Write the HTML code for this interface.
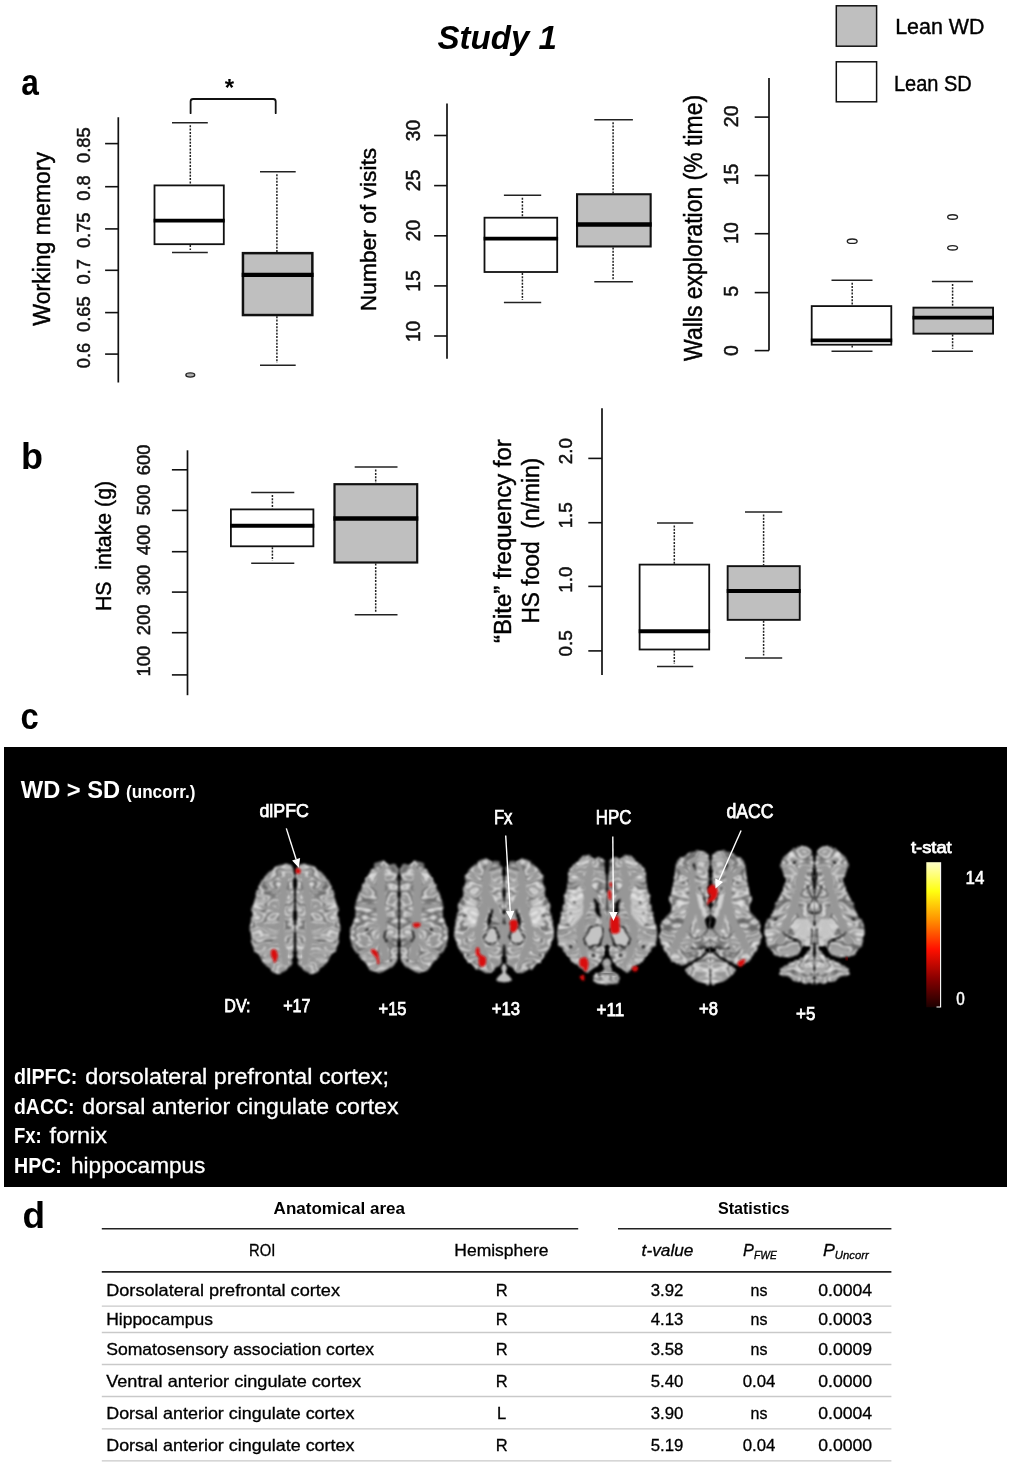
<!DOCTYPE html>
<html lang="en"><head><meta charset="utf-8"><title>Study 1</title>
<style>
html,body{margin:0;padding:0;background:#fff;}
body{width:1009px;height:1466px;overflow:hidden;font-family:"Liberation Sans",sans-serif;}
svg{display:block;}
text{white-space:pre;}
</style></head><body>
<svg width="1009" height="1466" viewBox="0 0 1009 1466">
<rect width="1009" height="1466" fill="#fff"/>
<g id="plots" font-family="Liberation Sans, sans-serif">
<text x="437.5" y="49" font-size="33" font-weight="bold" font-style="italic" textLength="119.5" lengthAdjust="spacingAndGlyphs" fill="#000">Study 1</text>
<rect x="836.3" y="5.8" width="40.3" height="40.4" fill="#bfbfbf" stroke="#111" stroke-width="1.5"/>
<rect x="836.3" y="61.8" width="40.3" height="40.0" fill="#fff" stroke="#111" stroke-width="1.5"/>
<text x="895.2" y="34.3" font-size="22" textLength="89.4" lengthAdjust="spacingAndGlyphs" fill="#000" stroke="#000" stroke-width="0.4">Lean WD</text>
<text x="893.9" y="91.2" font-size="22" textLength="77.9" lengthAdjust="spacingAndGlyphs" fill="#000" stroke="#000" stroke-width="0.4">Lean SD</text>
<text x="21.3" y="94.5" font-size="37" font-weight="bold" textLength="17.6" lengthAdjust="spacingAndGlyphs" fill="#000">a</text>
<text x="21" y="469.3" font-size="37.5" font-weight="bold" textLength="22" lengthAdjust="spacingAndGlyphs" fill="#000">b</text>
<text x="20.6" y="729.3" font-size="37.5" font-weight="bold" textLength="18.2" lengthAdjust="spacingAndGlyphs" fill="#000">c</text>
<text x="22.5" y="1228.3" font-size="37.5" font-weight="bold" textLength="22.6" lengthAdjust="spacingAndGlyphs" fill="#000">d</text>
<line x1="118.3" y1="117.2" x2="118.3" y2="382.5" stroke="#111" stroke-width="1.7"/>
<line x1="105.1" y1="143.6" x2="118.3" y2="143.6" stroke="#111" stroke-width="1.6"/>
<line x1="105.1" y1="186.7" x2="118.3" y2="186.7" stroke="#111" stroke-width="1.6"/>
<line x1="105.1" y1="228.9" x2="118.3" y2="228.9" stroke="#111" stroke-width="1.6"/>
<line x1="105.1" y1="270.3" x2="118.3" y2="270.3" stroke="#111" stroke-width="1.6"/>
<line x1="105.1" y1="312.6" x2="118.3" y2="312.6" stroke="#111" stroke-width="1.6"/>
<line x1="105.1" y1="354.1" x2="118.3" y2="354.1" stroke="#111" stroke-width="1.6"/>
<text transform="translate(90.2,145.1) rotate(-90)" font-size="18.3" text-anchor="middle" fill="#111" stroke="#111" stroke-width="0.5">0.85</text>
<text transform="translate(90.2,188) rotate(-90)" font-size="18.3" text-anchor="middle" fill="#111" stroke="#111" stroke-width="0.5">0.8</text>
<text transform="translate(90.2,230.3) rotate(-90)" font-size="18.3" text-anchor="middle" fill="#111" stroke="#111" stroke-width="0.5">0.75</text>
<text transform="translate(90.2,271.9) rotate(-90)" font-size="18.3" text-anchor="middle" fill="#111" stroke="#111" stroke-width="0.5">0.7</text>
<text transform="translate(90.2,314.2) rotate(-90)" font-size="18.3" text-anchor="middle" fill="#111" stroke="#111" stroke-width="0.5">0.65</text>
<text transform="translate(90.2,355.5) rotate(-90)" font-size="18.3" text-anchor="middle" fill="#111" stroke="#111" stroke-width="0.5">0.6</text>
<text transform="translate(49.7,238.8) rotate(-90)" font-size="23" text-anchor="middle" textLength="173.8" lengthAdjust="spacingAndGlyphs" fill="#000" stroke="#000" stroke-width="0.45">Working memory</text>
<line x1="190.3" y1="125.3" x2="190.3" y2="184.5" stroke="#222" stroke-width="1.5" stroke-dasharray="2 1.3"/>
<line x1="190.3" y1="245.1" x2="190.3" y2="250.0" stroke="#222" stroke-width="1.5" stroke-dasharray="2 1.3"/>
<line x1="172" y1="122.8" x2="207.8" y2="122.8" stroke="#222" stroke-width="1.5"/>
<line x1="172" y1="252.5" x2="207.8" y2="252.5" stroke="#222" stroke-width="1.5"/>
<rect x="154.5" y="185.4" width="69.3" height="58.8" fill="#fff" stroke="#111" stroke-width="1.8"/>
<line x1="153.6" y1="220.6" x2="224.7" y2="220.6" stroke="#000" stroke-width="3.9"/>
<ellipse cx="190.3" cy="375" rx="4.4" ry="2.1" fill="#b0b0b0" stroke="#222" stroke-width="1.4"/>
<line x1="276.9" y1="174.2" x2="276.9" y2="251.9" stroke="#222" stroke-width="1.5" stroke-dasharray="2 1.3"/>
<line x1="276.9" y1="316.3" x2="276.9" y2="362.8" stroke="#222" stroke-width="1.5" stroke-dasharray="2 1.3"/>
<line x1="260" y1="171.7" x2="295.7" y2="171.7" stroke="#222" stroke-width="1.5"/>
<line x1="260" y1="365.3" x2="295.7" y2="365.3" stroke="#222" stroke-width="1.5"/>
<rect x="242.95" y="253.15" width="69.4" height="61.9" fill="#bfbfbf" stroke="#111" stroke-width="2.5"/>
<line x1="241.7" y1="274.9" x2="313.6" y2="274.9" stroke="#000" stroke-width="4.4"/>
<path d="M190.6 113.2 V101.5 Q190.6 99 193.1 99 H273.2 Q275.7 99 275.7 101.5 V113.2" fill="none" stroke="#111" stroke-width="1.8" stroke-linecap="round"/>
<text x="229.5" y="96.4" font-size="24" text-anchor="middle" font-weight="bold" fill="#000">*</text>
<line x1="447" y1="103.5" x2="447" y2="358.7" stroke="#111" stroke-width="1.7"/>
<line x1="434.1" y1="135.5" x2="447" y2="135.5" stroke="#111" stroke-width="1.6"/>
<line x1="434.1" y1="185.6" x2="447" y2="185.6" stroke="#111" stroke-width="1.6"/>
<line x1="434.1" y1="235.8" x2="447" y2="235.8" stroke="#111" stroke-width="1.6"/>
<line x1="434.1" y1="285.9" x2="447" y2="285.9" stroke="#111" stroke-width="1.6"/>
<line x1="434.1" y1="336" x2="447" y2="336" stroke="#111" stroke-width="1.6"/>
<text transform="translate(420,130.5) rotate(-90)" font-size="19.3" text-anchor="middle" fill="#111" stroke="#111" stroke-width="0.5">30</text>
<text transform="translate(420,180.5) rotate(-90)" font-size="19.3" text-anchor="middle" fill="#111" stroke="#111" stroke-width="0.5">25</text>
<text transform="translate(420,230.5) rotate(-90)" font-size="19.3" text-anchor="middle" fill="#111" stroke="#111" stroke-width="0.5">20</text>
<text transform="translate(420,281) rotate(-90)" font-size="19.3" text-anchor="middle" fill="#111" stroke="#111" stroke-width="0.5">15</text>
<text transform="translate(420,331.4) rotate(-90)" font-size="19.3" text-anchor="middle" fill="#111" stroke="#111" stroke-width="0.5">10</text>
<text transform="translate(375.7,229.5) rotate(-90)" font-size="22.2" text-anchor="middle" textLength="163.4" lengthAdjust="spacingAndGlyphs" fill="#000" stroke="#000" stroke-width="0.45">Number of visits</text>
<line x1="522.4" y1="197.8" x2="522.4" y2="216.8" stroke="#222" stroke-width="1.5" stroke-dasharray="2 1.3"/>
<line x1="522.4" y1="272.9" x2="522.4" y2="300.1" stroke="#222" stroke-width="1.5" stroke-dasharray="2 1.3"/>
<line x1="503.9" y1="195.3" x2="541.2" y2="195.3" stroke="#222" stroke-width="1.5"/>
<line x1="503.9" y1="302.6" x2="541.2" y2="302.6" stroke="#222" stroke-width="1.5"/>
<rect x="484.5" y="217.7" width="72.7" height="54.3" fill="#fff" stroke="#111" stroke-width="1.8"/>
<line x1="483.6" y1="238.6" x2="558.1" y2="238.6" stroke="#000" stroke-width="3.9"/>
<line x1="613.1" y1="122.3" x2="613.1" y2="193.2" stroke="#222" stroke-width="1.5" stroke-dasharray="2 1.3"/>
<line x1="613.1" y1="247.5" x2="613.1" y2="279.2" stroke="#222" stroke-width="1.5" stroke-dasharray="2 1.3"/>
<line x1="594.3" y1="119.8" x2="632.9" y2="119.8" stroke="#222" stroke-width="1.5"/>
<line x1="594.3" y1="281.7" x2="632.9" y2="281.7" stroke="#222" stroke-width="1.5"/>
<rect x="577.05" y="194.25" width="73.6" height="52.2" fill="#bfbfbf" stroke="#111" stroke-width="2.1"/>
<line x1="576" y1="224.5" x2="651.7" y2="224.5" stroke="#000" stroke-width="4.3"/>
<line x1="769" y1="78" x2="769" y2="350.6" stroke="#111" stroke-width="1.7"/>
<line x1="754.7" y1="117.1" x2="769" y2="117.1" stroke="#111" stroke-width="1.6"/>
<line x1="754.7" y1="175.5" x2="769" y2="175.5" stroke="#111" stroke-width="1.6"/>
<line x1="754.7" y1="233.7" x2="769" y2="233.7" stroke="#111" stroke-width="1.6"/>
<line x1="754.7" y1="292.6" x2="769" y2="292.6" stroke="#111" stroke-width="1.6"/>
<line x1="754.7" y1="350.6" x2="769" y2="350.6" stroke="#111" stroke-width="1.6"/>
<text transform="translate(737.5,116.3) rotate(-90)" font-size="19.6" text-anchor="middle" fill="#111" stroke="#111" stroke-width="0.5">20</text>
<text transform="translate(737.5,174.4) rotate(-90)" font-size="19.6" text-anchor="middle" fill="#111" stroke="#111" stroke-width="0.5">15</text>
<text transform="translate(737.5,233.1) rotate(-90)" font-size="19.6" text-anchor="middle" fill="#111" stroke="#111" stroke-width="0.5">10</text>
<text transform="translate(737.5,291.2) rotate(-90)" font-size="19.6" text-anchor="middle" fill="#111" stroke="#111" stroke-width="0.5">5</text>
<text transform="translate(737.5,350.5) rotate(-90)" font-size="19.6" text-anchor="middle" fill="#111" stroke="#111" stroke-width="0.5">0</text>
<text transform="translate(702.3,227.9) rotate(-90)" font-size="25" text-anchor="middle" textLength="266" lengthAdjust="spacingAndGlyphs" fill="#000" stroke="#000" stroke-width="0.45">Walls exploration (% time)</text>
<line x1="852.2" y1="282.7" x2="852.2" y2="305.2" stroke="#222" stroke-width="1.5" stroke-dasharray="2 1.3"/>
<line x1="852.2" y1="345.6" x2="852.2" y2="348.7" stroke="#222" stroke-width="1.5" stroke-dasharray="2 1.3"/>
<line x1="831.5" y1="280.2" x2="872.5" y2="280.2" stroke="#222" stroke-width="1.5"/>
<line x1="831.5" y1="351.2" x2="872.5" y2="351.2" stroke="#222" stroke-width="1.5"/>
<rect x="811.7" y="306.1" width="79.6" height="38.6" fill="#fff" stroke="#111" stroke-width="1.8"/>
<line x1="810.8" y1="340.4" x2="892.2" y2="340.4" stroke="#000" stroke-width="3.9"/>
<ellipse cx="852.2" cy="241.2" rx="4.9" ry="2.2" fill="#fff" stroke="#222" stroke-width="1.4"/>
<line x1="952.6" y1="283.9" x2="952.6" y2="306.7" stroke="#222" stroke-width="1.5" stroke-dasharray="2 1.3"/>
<line x1="952.6" y1="334.6" x2="952.6" y2="348.7" stroke="#222" stroke-width="1.5" stroke-dasharray="2 1.3"/>
<line x1="931.9" y1="281.4" x2="972.9" y2="281.4" stroke="#222" stroke-width="1.5"/>
<line x1="931.9" y1="351.2" x2="972.9" y2="351.2" stroke="#222" stroke-width="1.5"/>
<rect x="913.45" y="307.65" width="79.6" height="26.0" fill="#bfbfbf" stroke="#111" stroke-width="1.9"/>
<line x1="912.5" y1="317.6" x2="994" y2="317.6" stroke="#000" stroke-width="3.9"/>
<ellipse cx="952.6" cy="217" rx="4.9" ry="2.2" fill="#fff" stroke="#222" stroke-width="1.4"/>
<ellipse cx="952.6" cy="247.8" rx="4.9" ry="2.2" fill="#fff" stroke="#222" stroke-width="1.4"/>
<line x1="187.5" y1="450.3" x2="187.5" y2="695.2" stroke="#111" stroke-width="1.7"/>
<line x1="171.9" y1="469.8" x2="187.5" y2="469.8" stroke="#111" stroke-width="1.6"/>
<line x1="171.9" y1="510.4" x2="187.5" y2="510.4" stroke="#111" stroke-width="1.6"/>
<line x1="171.9" y1="551.7" x2="187.5" y2="551.7" stroke="#111" stroke-width="1.6"/>
<line x1="171.9" y1="592.1" x2="187.5" y2="592.1" stroke="#111" stroke-width="1.6"/>
<line x1="171.9" y1="632.7" x2="187.5" y2="632.7" stroke="#111" stroke-width="1.6"/>
<line x1="171.9" y1="674.9" x2="187.5" y2="674.9" stroke="#111" stroke-width="1.6"/>
<text transform="translate(149.9,459.8) rotate(-90)" font-size="18.4" text-anchor="middle" fill="#111" stroke="#111" stroke-width="0.5">600</text>
<text transform="translate(149.9,499.8) rotate(-90)" font-size="18.4" text-anchor="middle" fill="#111" stroke="#111" stroke-width="0.5">500</text>
<text transform="translate(149.9,540) rotate(-90)" font-size="18.4" text-anchor="middle" fill="#111" stroke="#111" stroke-width="0.5">400</text>
<text transform="translate(149.9,580) rotate(-90)" font-size="18.4" text-anchor="middle" fill="#111" stroke="#111" stroke-width="0.5">300</text>
<text transform="translate(149.9,619.9) rotate(-90)" font-size="18.4" text-anchor="middle" fill="#111" stroke="#111" stroke-width="0.5">200</text>
<text transform="translate(149.9,661.1) rotate(-90)" font-size="18.4" text-anchor="middle" fill="#111" stroke="#111" stroke-width="0.5">100</text>
<text transform="translate(111.1,546) rotate(-90)" font-size="22.5" text-anchor="middle" textLength="130.2" lengthAdjust="spacingAndGlyphs" fill="#000" stroke="#000" stroke-width="0.45">HS  intake (g)</text>
<line x1="272.4" y1="495.0" x2="272.4" y2="508.5" stroke="#222" stroke-width="1.5" stroke-dasharray="2 1.3"/>
<line x1="272.4" y1="547.2" x2="272.4" y2="560.7" stroke="#222" stroke-width="1.5" stroke-dasharray="2 1.3"/>
<line x1="251.2" y1="492.5" x2="294.3" y2="492.5" stroke="#222" stroke-width="1.5"/>
<line x1="251.2" y1="563.2" x2="294.3" y2="563.2" stroke="#222" stroke-width="1.5"/>
<rect x="230.9" y="509.4" width="82.5" height="36.9" fill="#fff" stroke="#111" stroke-width="1.8"/>
<line x1="230" y1="525.8" x2="314.3" y2="525.8" stroke="#000" stroke-width="3.9"/>
<line x1="375.7" y1="469.6" x2="375.7" y2="483.1" stroke="#222" stroke-width="1.5" stroke-dasharray="2 1.3"/>
<line x1="375.7" y1="563.6" x2="375.7" y2="612.3" stroke="#222" stroke-width="1.5" stroke-dasharray="2 1.3"/>
<line x1="354.7" y1="467.1" x2="397.5" y2="467.1" stroke="#222" stroke-width="1.5"/>
<line x1="354.7" y1="614.8" x2="397.5" y2="614.8" stroke="#222" stroke-width="1.5"/>
<rect x="334.5" y="484.2" width="82.7" height="78.3" fill="#bfbfbf" stroke="#111" stroke-width="2.2"/>
<line x1="333.4" y1="518.5" x2="418.3" y2="518.5" stroke="#000" stroke-width="4.5"/>
<line x1="602" y1="408.3" x2="602" y2="675" stroke="#111" stroke-width="1.7"/>
<line x1="588.3" y1="458.4" x2="602" y2="458.4" stroke="#111" stroke-width="1.6"/>
<line x1="588.3" y1="522.7" x2="602" y2="522.7" stroke="#111" stroke-width="1.6"/>
<line x1="588.3" y1="586.4" x2="602" y2="586.4" stroke="#111" stroke-width="1.6"/>
<line x1="588.3" y1="650.9" x2="602" y2="650.9" stroke="#111" stroke-width="1.6"/>
<text transform="translate(572.3,451.2) rotate(-90)" font-size="18.8" text-anchor="middle" fill="#111" stroke="#111" stroke-width="0.5">2.0</text>
<text transform="translate(572.3,515.3) rotate(-90)" font-size="18.8" text-anchor="middle" fill="#111" stroke="#111" stroke-width="0.5">1.5</text>
<text transform="translate(572.3,579.6) rotate(-90)" font-size="18.8" text-anchor="middle" fill="#111" stroke="#111" stroke-width="0.5">1.0</text>
<text transform="translate(572.3,643.4) rotate(-90)" font-size="18.8" text-anchor="middle" fill="#111" stroke="#111" stroke-width="0.5">0.5</text>
<text transform="translate(510.7,541.1) rotate(-90)" font-size="23" text-anchor="middle" textLength="203.8" lengthAdjust="spacingAndGlyphs" fill="#000" stroke="#000" stroke-width="0.45">“Bite” frequency for</text>
<text transform="translate(538.8,540.7) rotate(-90)" font-size="23" text-anchor="middle" textLength="165.8" lengthAdjust="spacingAndGlyphs" fill="#000" stroke="#000" stroke-width="0.45">HS food  (n/min)</text>
<line x1="674.3" y1="525.4" x2="674.3" y2="563.7" stroke="#222" stroke-width="1.5" stroke-dasharray="2 1.3"/>
<line x1="674.3" y1="650.4" x2="674.3" y2="663.9" stroke="#222" stroke-width="1.5" stroke-dasharray="2 1.3"/>
<line x1="657" y1="522.9" x2="693.2" y2="522.9" stroke="#222" stroke-width="1.5"/>
<line x1="657" y1="666.4" x2="693.2" y2="666.4" stroke="#222" stroke-width="1.5"/>
<rect x="639.6" y="564.6" width="69.6" height="84.9" fill="#fff" stroke="#111" stroke-width="1.8"/>
<line x1="638.7" y1="631.2" x2="710.1" y2="631.2" stroke="#000" stroke-width="3.9"/>
<line x1="763.6" y1="514.4" x2="763.6" y2="565.2" stroke="#222" stroke-width="1.5" stroke-dasharray="2 1.3"/>
<line x1="763.6" y1="620.8" x2="763.6" y2="655.6" stroke="#222" stroke-width="1.5" stroke-dasharray="2 1.3"/>
<line x1="745" y1="511.9" x2="782.2" y2="511.9" stroke="#222" stroke-width="1.5"/>
<line x1="745" y1="658.1" x2="782.2" y2="658.1" stroke="#222" stroke-width="1.5"/>
<rect x="727.65" y="566.15" width="72.1" height="53.7" fill="#bfbfbf" stroke="#111" stroke-width="1.9"/>
<line x1="726.7" y1="591" x2="800.7" y2="591" stroke="#000" stroke-width="4.0"/>
</g>
<g id="panelc" font-family="Liberation Sans, sans-serif">
<rect x="4" y="747" width="1003" height="440" fill="#000"/>
<defs><filter id="wob1" x="-10%" y="-10%" width="120%" height="120%" color-interpolation-filters="sRGB"><feTurbulence type="fractalNoise" baseFrequency="0.12" numOctaves="2" seed="8" result="n"/><feDisplacementMap in="SourceGraphic" in2="n" scale="4.5" xChannelSelector="R" yChannelSelector="G" result="d"/><feTurbulence type="fractalNoise" baseFrequency="0.045 0.085" numOctaves="2" seed="12" result="m"/><feColorMatrix in="m" type="matrix" values="1 0 0 0 0  1 0 0 0 0  1 0 0 0 0  0 0 0 0 1" result="mg"/><feComponentTransfer in="mg" result="bands"><feFuncR type="table" tableValues="0.66 0.66 0.66 0.66 0.66 0.70 1.00 0.72 0.62 0.72 1.00 0.70 0.42 0.70 1.00 0.72 0.62 0.72 1.00 0.70 0.66 0.66 0.66 0.66 0.66"/><feFuncG type="table" tableValues="0.66 0.66 0.66 0.66 0.66 0.70 1.00 0.72 0.62 0.72 1.00 0.70 0.42 0.70 1.00 0.72 0.62 0.72 1.00 0.70 0.66 0.66 0.66 0.66 0.66"/><feFuncB type="table" tableValues="0.66 0.66 0.66 0.66 0.66 0.70 1.00 0.72 0.62 0.72 1.00 0.70 0.42 0.70 1.00 0.72 0.62 0.72 1.00 0.70 0.66 0.66 0.66 0.66 0.66"/></feComponentTransfer><feBlend in="bands" in2="d" mode="multiply" result="mix"/><feComposite in="mix" in2="d" operator="in" result="mix2"/><feGaussianBlur in="mix2" stdDeviation="0.8"/></filter><filter id="wob1p" x="-10%" y="-10%" width="120%" height="120%" color-interpolation-filters="sRGB"><feTurbulence type="fractalNoise" baseFrequency="0.12" numOctaves="2" seed="8" result="n"/><feDisplacementMap in="SourceGraphic" in2="n" scale="4.5" xChannelSelector="R" yChannelSelector="G" result="d"/><feGaussianBlur in="d" stdDeviation="0.8"/></filter><filter id="wob2" x="-10%" y="-10%" width="120%" height="120%" color-interpolation-filters="sRGB"><feTurbulence type="fractalNoise" baseFrequency="0.12" numOctaves="2" seed="13" result="n"/><feDisplacementMap in="SourceGraphic" in2="n" scale="4.5" xChannelSelector="R" yChannelSelector="G" result="d"/><feTurbulence type="fractalNoise" baseFrequency="0.045 0.085" numOctaves="2" seed="17" result="m"/><feColorMatrix in="m" type="matrix" values="1 0 0 0 0  1 0 0 0 0  1 0 0 0 0  0 0 0 0 1" result="mg"/><feComponentTransfer in="mg" result="bands"><feFuncR type="table" tableValues="0.66 0.66 0.66 0.66 0.66 0.70 1.00 0.72 0.62 0.72 1.00 0.70 0.42 0.70 1.00 0.72 0.62 0.72 1.00 0.70 0.66 0.66 0.66 0.66 0.66"/><feFuncG type="table" tableValues="0.66 0.66 0.66 0.66 0.66 0.70 1.00 0.72 0.62 0.72 1.00 0.70 0.42 0.70 1.00 0.72 0.62 0.72 1.00 0.70 0.66 0.66 0.66 0.66 0.66"/><feFuncB type="table" tableValues="0.66 0.66 0.66 0.66 0.66 0.70 1.00 0.72 0.62 0.72 1.00 0.70 0.42 0.70 1.00 0.72 0.62 0.72 1.00 0.70 0.66 0.66 0.66 0.66 0.66"/></feComponentTransfer><feBlend in="bands" in2="d" mode="multiply" result="mix"/><feComposite in="mix" in2="d" operator="in" result="mix2"/><feGaussianBlur in="mix2" stdDeviation="0.8"/></filter><filter id="wob2p" x="-10%" y="-10%" width="120%" height="120%" color-interpolation-filters="sRGB"><feTurbulence type="fractalNoise" baseFrequency="0.12" numOctaves="2" seed="13" result="n"/><feDisplacementMap in="SourceGraphic" in2="n" scale="4.5" xChannelSelector="R" yChannelSelector="G" result="d"/><feGaussianBlur in="d" stdDeviation="0.8"/></filter><filter id="wob3" x="-10%" y="-10%" width="120%" height="120%" color-interpolation-filters="sRGB"><feTurbulence type="fractalNoise" baseFrequency="0.12" numOctaves="2" seed="18" result="n"/><feDisplacementMap in="SourceGraphic" in2="n" scale="4.5" xChannelSelector="R" yChannelSelector="G" result="d"/><feTurbulence type="fractalNoise" baseFrequency="0.045 0.085" numOctaves="2" seed="22" result="m"/><feColorMatrix in="m" type="matrix" values="1 0 0 0 0  1 0 0 0 0  1 0 0 0 0  0 0 0 0 1" result="mg"/><feComponentTransfer in="mg" result="bands"><feFuncR type="table" tableValues="0.66 0.66 0.66 0.66 0.66 0.70 1.00 0.72 0.62 0.72 1.00 0.70 0.42 0.70 1.00 0.72 0.62 0.72 1.00 0.70 0.66 0.66 0.66 0.66 0.66"/><feFuncG type="table" tableValues="0.66 0.66 0.66 0.66 0.66 0.70 1.00 0.72 0.62 0.72 1.00 0.70 0.42 0.70 1.00 0.72 0.62 0.72 1.00 0.70 0.66 0.66 0.66 0.66 0.66"/><feFuncB type="table" tableValues="0.66 0.66 0.66 0.66 0.66 0.70 1.00 0.72 0.62 0.72 1.00 0.70 0.42 0.70 1.00 0.72 0.62 0.72 1.00 0.70 0.66 0.66 0.66 0.66 0.66"/></feComponentTransfer><feBlend in="bands" in2="d" mode="multiply" result="mix"/><feComposite in="mix" in2="d" operator="in" result="mix2"/><feGaussianBlur in="mix2" stdDeviation="0.8"/></filter><filter id="wob3p" x="-10%" y="-10%" width="120%" height="120%" color-interpolation-filters="sRGB"><feTurbulence type="fractalNoise" baseFrequency="0.12" numOctaves="2" seed="18" result="n"/><feDisplacementMap in="SourceGraphic" in2="n" scale="4.5" xChannelSelector="R" yChannelSelector="G" result="d"/><feGaussianBlur in="d" stdDeviation="0.8"/></filter><filter id="wob4" x="-10%" y="-10%" width="120%" height="120%" color-interpolation-filters="sRGB"><feTurbulence type="fractalNoise" baseFrequency="0.12" numOctaves="2" seed="23" result="n"/><feDisplacementMap in="SourceGraphic" in2="n" scale="4.5" xChannelSelector="R" yChannelSelector="G" result="d"/><feTurbulence type="fractalNoise" baseFrequency="0.045 0.085" numOctaves="2" seed="27" result="m"/><feColorMatrix in="m" type="matrix" values="1 0 0 0 0  1 0 0 0 0  1 0 0 0 0  0 0 0 0 1" result="mg"/><feComponentTransfer in="mg" result="bands"><feFuncR type="table" tableValues="0.66 0.66 0.66 0.66 0.66 0.70 1.00 0.72 0.62 0.72 1.00 0.70 0.42 0.70 1.00 0.72 0.62 0.72 1.00 0.70 0.66 0.66 0.66 0.66 0.66"/><feFuncG type="table" tableValues="0.66 0.66 0.66 0.66 0.66 0.70 1.00 0.72 0.62 0.72 1.00 0.70 0.42 0.70 1.00 0.72 0.62 0.72 1.00 0.70 0.66 0.66 0.66 0.66 0.66"/><feFuncB type="table" tableValues="0.66 0.66 0.66 0.66 0.66 0.70 1.00 0.72 0.62 0.72 1.00 0.70 0.42 0.70 1.00 0.72 0.62 0.72 1.00 0.70 0.66 0.66 0.66 0.66 0.66"/></feComponentTransfer><feBlend in="bands" in2="d" mode="multiply" result="mix"/><feComposite in="mix" in2="d" operator="in" result="mix2"/><feGaussianBlur in="mix2" stdDeviation="0.8"/></filter><filter id="wob4p" x="-10%" y="-10%" width="120%" height="120%" color-interpolation-filters="sRGB"><feTurbulence type="fractalNoise" baseFrequency="0.12" numOctaves="2" seed="23" result="n"/><feDisplacementMap in="SourceGraphic" in2="n" scale="4.5" xChannelSelector="R" yChannelSelector="G" result="d"/><feGaussianBlur in="d" stdDeviation="0.8"/></filter><filter id="wob5" x="-10%" y="-10%" width="120%" height="120%" color-interpolation-filters="sRGB"><feTurbulence type="fractalNoise" baseFrequency="0.12" numOctaves="2" seed="28" result="n"/><feDisplacementMap in="SourceGraphic" in2="n" scale="4.5" xChannelSelector="R" yChannelSelector="G" result="d"/><feTurbulence type="fractalNoise" baseFrequency="0.045 0.085" numOctaves="2" seed="32" result="m"/><feColorMatrix in="m" type="matrix" values="1 0 0 0 0  1 0 0 0 0  1 0 0 0 0  0 0 0 0 1" result="mg"/><feComponentTransfer in="mg" result="bands"><feFuncR type="table" tableValues="0.66 0.66 0.66 0.66 0.66 0.70 1.00 0.72 0.62 0.72 1.00 0.70 0.42 0.70 1.00 0.72 0.62 0.72 1.00 0.70 0.66 0.66 0.66 0.66 0.66"/><feFuncG type="table" tableValues="0.66 0.66 0.66 0.66 0.66 0.70 1.00 0.72 0.62 0.72 1.00 0.70 0.42 0.70 1.00 0.72 0.62 0.72 1.00 0.70 0.66 0.66 0.66 0.66 0.66"/><feFuncB type="table" tableValues="0.66 0.66 0.66 0.66 0.66 0.70 1.00 0.72 0.62 0.72 1.00 0.70 0.42 0.70 1.00 0.72 0.62 0.72 1.00 0.70 0.66 0.66 0.66 0.66 0.66"/></feComponentTransfer><feBlend in="bands" in2="d" mode="multiply" result="mix"/><feComposite in="mix" in2="d" operator="in" result="mix2"/><feGaussianBlur in="mix2" stdDeviation="0.8"/></filter><filter id="wob5p" x="-10%" y="-10%" width="120%" height="120%" color-interpolation-filters="sRGB"><feTurbulence type="fractalNoise" baseFrequency="0.12" numOctaves="2" seed="28" result="n"/><feDisplacementMap in="SourceGraphic" in2="n" scale="4.5" xChannelSelector="R" yChannelSelector="G" result="d"/><feGaussianBlur in="d" stdDeviation="0.8"/></filter><filter id="wob6" x="-10%" y="-10%" width="120%" height="120%" color-interpolation-filters="sRGB"><feTurbulence type="fractalNoise" baseFrequency="0.12" numOctaves="2" seed="33" result="n"/><feDisplacementMap in="SourceGraphic" in2="n" scale="4.5" xChannelSelector="R" yChannelSelector="G" result="d"/><feTurbulence type="fractalNoise" baseFrequency="0.045 0.085" numOctaves="2" seed="37" result="m"/><feColorMatrix in="m" type="matrix" values="1 0 0 0 0  1 0 0 0 0  1 0 0 0 0  0 0 0 0 1" result="mg"/><feComponentTransfer in="mg" result="bands"><feFuncR type="table" tableValues="0.66 0.66 0.66 0.66 0.66 0.70 1.00 0.72 0.62 0.72 1.00 0.70 0.42 0.70 1.00 0.72 0.62 0.72 1.00 0.70 0.66 0.66 0.66 0.66 0.66"/><feFuncG type="table" tableValues="0.66 0.66 0.66 0.66 0.66 0.70 1.00 0.72 0.62 0.72 1.00 0.70 0.42 0.70 1.00 0.72 0.62 0.72 1.00 0.70 0.66 0.66 0.66 0.66 0.66"/><feFuncB type="table" tableValues="0.66 0.66 0.66 0.66 0.66 0.70 1.00 0.72 0.62 0.72 1.00 0.70 0.42 0.70 1.00 0.72 0.62 0.72 1.00 0.70 0.66 0.66 0.66 0.66 0.66"/></feComponentTransfer><feBlend in="bands" in2="d" mode="multiply" result="mix"/><feComposite in="mix" in2="d" operator="in" result="mix2"/><feGaussianBlur in="mix2" stdDeviation="0.8"/></filter><filter id="wob6p" x="-10%" y="-10%" width="120%" height="120%" color-interpolation-filters="sRGB"><feTurbulence type="fractalNoise" baseFrequency="0.12" numOctaves="2" seed="33" result="n"/><feDisplacementMap in="SourceGraphic" in2="n" scale="4.5" xChannelSelector="R" yChannelSelector="G" result="d"/><feGaussianBlur in="d" stdDeviation="0.8"/></filter><filter id="soft"><feGaussianBlur stdDeviation="0.8"/></filter></defs>
<g filter="url(#wob1)"><path d="M292.6 867.8C291.4 863.7 288.4 865.4 286.0 865.1C283.6 864.7 280.6 864.9 278.1 865.9C275.5 866.8 273.3 868.5 270.9 870.6C268.5 872.7 265.9 875.6 263.8 878.5C261.7 881.5 259.7 884.6 258.2 888.1C256.8 891.5 256.0 895.2 255.1 899.2C254.1 903.1 253.0 907.6 252.4 911.8C251.7 916.1 251.2 920.3 251.1 924.5C251.0 928.8 251.3 933.3 251.9 937.2C252.5 941.2 253.3 945.0 254.6 948.3C255.9 951.6 257.9 954.3 259.8 957.0C261.8 959.8 264.1 962.6 266.2 965.0C268.3 967.3 270.1 970.1 272.5 971.3C274.9 972.6 277.9 972.9 280.4 972.4C282.9 972.0 285.6 970.5 287.6 968.6C289.6 966.7 291.4 966.0 292.3 961.0C293.3 956.0 293.2 946.7 293.4 938.8C293.7 930.9 293.6 921.6 293.6 913.4C293.6 905.2 293.8 897.3 293.6 889.6C293.4 882.0 293.9 871.9 292.6 867.8Z" fill="#e6e6e6" stroke="#f4f4f4" stroke-width="0.8" stroke-linejoin="round" stroke-linecap="round"/></g>
<g filter="url(#wob1p)"><path d="M285.2 880.1C284.7 883.8 282.6 894.7 282.0 902.3C281.4 910.0 281.5 919.0 281.5 926.1C281.5 933.3 281.4 939.3 282.0 945.1C282.6 951.0 284.7 958.4 285.2 961.0" fill="none" stroke="#979797" stroke-width="6.5" stroke-linejoin="round" stroke-linecap="round"/>
<path d="M282.8 897.6C281.4 896.4 276.7 892.7 274.1 890.4C271.5 888.2 268.1 885.2 267.0 884.1" fill="none" stroke="#979797" stroke-width="3.4" stroke-linejoin="round" stroke-linecap="round"/>
<path d="M282.0 910.3C280.0 910.0 273.8 909.5 270.1 908.7C266.4 907.9 261.5 906.0 259.8 905.5" fill="none" stroke="#979797" stroke-width="3.4" stroke-linejoin="round" stroke-linecap="round"/>
<path d="M281.5 924.5C279.5 924.8 273.4 926.1 269.3 926.1C265.3 926.1 259.4 924.8 257.4 924.5" fill="none" stroke="#979797" stroke-width="3.4" stroke-linejoin="round" stroke-linecap="round"/>
<path d="M282.0 938.8C280.2 939.6 274.5 942.2 270.9 943.6C267.4 944.9 262.3 946.2 260.6 946.7" fill="none" stroke="#979797" stroke-width="3.4" stroke-linejoin="round" stroke-linecap="round"/>
<path d="M283.6 951.5C282.3 952.8 277.8 957.2 275.7 959.4C273.6 961.7 271.7 964.0 270.9 965.0" fill="none" stroke="#979797" stroke-width="3.4" stroke-linejoin="round" stroke-linecap="round"/>
<path d="M285.2 886.5C284.4 884.9 281.5 879.6 280.4 877.0C279.4 874.3 279.1 871.7 278.9 870.6" fill="none" stroke="#979797" stroke-width="3.4" stroke-linejoin="round" stroke-linecap="round"/></g>
<g transform="translate(590.05,0) scale(-1,1)">
<g filter="url(#wob1)"><path d="M292.6 867.8C291.4 863.7 288.4 865.4 286.0 865.1C283.6 864.7 280.6 864.9 278.1 865.9C275.5 866.8 273.3 868.5 270.9 870.6C268.5 872.7 265.9 875.6 263.8 878.5C261.7 881.5 259.7 884.6 258.2 888.1C256.8 891.5 256.0 895.2 255.1 899.2C254.1 903.1 253.0 907.6 252.4 911.8C251.7 916.1 251.2 920.3 251.1 924.5C251.0 928.8 251.3 933.3 251.9 937.2C252.5 941.2 253.3 945.0 254.6 948.3C255.9 951.6 257.9 954.3 259.8 957.0C261.8 959.8 264.1 962.6 266.2 965.0C268.3 967.3 270.1 970.1 272.5 971.3C274.9 972.6 277.9 972.9 280.4 972.4C282.9 972.0 285.6 970.5 287.6 968.6C289.6 966.7 291.4 966.0 292.3 961.0C293.3 956.0 293.2 946.7 293.4 938.8C293.7 930.9 293.6 921.6 293.6 913.4C293.6 905.2 293.8 897.3 293.6 889.6C293.4 882.0 293.9 871.9 292.6 867.8Z" fill="#e6e6e6" stroke="#f4f4f4" stroke-width="0.8" stroke-linejoin="round" stroke-linecap="round"/></g>
<g filter="url(#wob1p)"><path d="M285.2 880.1C284.7 883.8 282.6 894.7 282.0 902.3C281.4 910.0 281.5 919.0 281.5 926.1C281.5 933.3 281.4 939.3 282.0 945.1C282.6 951.0 284.7 958.4 285.2 961.0" fill="none" stroke="#979797" stroke-width="6.5" stroke-linejoin="round" stroke-linecap="round"/>
<path d="M282.8 897.6C281.4 896.4 276.7 892.7 274.1 890.4C271.5 888.2 268.1 885.2 267.0 884.1" fill="none" stroke="#979797" stroke-width="3.4" stroke-linejoin="round" stroke-linecap="round"/>
<path d="M282.0 910.3C280.0 910.0 273.8 909.5 270.1 908.7C266.4 907.9 261.5 906.0 259.8 905.5" fill="none" stroke="#979797" stroke-width="3.4" stroke-linejoin="round" stroke-linecap="round"/>
<path d="M281.5 924.5C279.5 924.8 273.4 926.1 269.3 926.1C265.3 926.1 259.4 924.8 257.4 924.5" fill="none" stroke="#979797" stroke-width="3.4" stroke-linejoin="round" stroke-linecap="round"/>
<path d="M282.0 938.8C280.2 939.6 274.5 942.2 270.9 943.6C267.4 944.9 262.3 946.2 260.6 946.7" fill="none" stroke="#979797" stroke-width="3.4" stroke-linejoin="round" stroke-linecap="round"/>
<path d="M283.6 951.5C282.3 952.8 277.8 957.2 275.7 959.4C273.6 961.7 271.7 964.0 270.9 965.0" fill="none" stroke="#979797" stroke-width="3.4" stroke-linejoin="round" stroke-linecap="round"/>
<path d="M285.2 886.5C284.4 884.9 281.5 879.6 280.4 877.0C279.4 874.3 279.1 871.7 278.9 870.6" fill="none" stroke="#979797" stroke-width="3.4" stroke-linejoin="round" stroke-linecap="round"/></g>
</g>
<g filter="url(#soft)">
<path d="M271.4 950.2C272.1 949.2 274.1 948.8 275.2 949.6C276.3 950.3 277.5 953.0 277.7 954.7C278.0 956.3 277.3 958.0 276.8 959.4C276.3 960.8 275.2 962.9 274.6 962.9C273.9 962.9 273.6 960.7 273.0 959.4C272.4 958.2 271.3 957.0 271.1 955.5C270.8 953.9 270.7 951.2 271.4 950.2Z" fill="#d90a0a"/>
<path d="M295.8 868.7C296.5 868.0 299.2 868.0 299.9 868.7C300.7 869.5 300.9 872.4 300.3 873.2C299.6 873.9 296.9 873.9 296.1 873.2C295.4 872.4 295.2 869.5 295.8 868.7Z" fill="#d90a0a"/>
</g>
<g filter="url(#wob2)"><path d="M397.1 869.3C396.5 866.7 395.6 864.2 394.4 863.3C393.1 862.5 391.3 864.6 389.6 864.3C387.9 863.9 385.9 861.5 384.2 861.2C382.6 860.8 381.3 861.3 379.5 862.1C377.7 863.0 375.2 864.7 373.5 866.3C371.9 867.9 370.4 869.8 369.4 871.7C368.4 873.5 368.7 875.6 367.6 877.6C366.5 879.6 364.1 881.2 362.8 883.5C361.6 885.9 360.9 889.1 359.9 891.9C358.9 894.6 357.7 897.2 356.9 900.2C356.1 903.2 355.5 906.5 355.1 909.7C354.7 912.9 355.1 916.1 354.5 919.2C353.9 922.4 352.2 925.6 351.5 928.7C350.9 931.9 350.4 935.3 350.7 938.3C351.0 941.2 352.1 944.0 353.3 946.6C354.6 949.2 356.5 951.3 358.1 953.7C359.7 956.1 361.1 958.7 362.8 960.9C364.6 963.0 366.8 965.1 368.8 966.8C370.8 968.5 372.8 970.0 374.7 971.0C376.7 972.0 378.7 972.8 380.7 972.7C382.7 972.6 384.6 971.5 386.6 970.4C388.6 969.3 390.9 967.8 392.6 966.2C394.2 964.6 395.5 963.5 396.4 960.9C397.2 958.2 397.4 955.9 397.7 950.1C397.9 944.4 397.9 934.3 397.9 926.4C398.0 918.4 398.1 910.5 398.0 902.6C398.0 894.6 398.0 884.3 397.8 878.8C397.6 873.2 397.7 871.8 397.1 869.3Z" fill="#e6e6e6" stroke="#f4f4f4" stroke-width="0.8" stroke-linejoin="round" stroke-linecap="round"/></g>
<g filter="url(#wob2p)"><path d="M380.7 876.4C380.7 879.8 380.5 889.9 380.7 896.6C380.9 903.4 381.5 909.9 381.9 916.8C382.3 923.8 382.7 931.5 383.1 938.3C383.5 945.0 384.1 954.1 384.2 957.3" fill="none" stroke="#979797" stroke-width="8.5" stroke-linejoin="round" stroke-linecap="round"/>
<path d="M380.7 890.7C379.3 889.7 374.5 886.7 372.4 884.7C370.2 882.8 368.4 879.8 367.6 878.8" fill="none" stroke="#979797" stroke-width="3.6" stroke-linejoin="round" stroke-linecap="round"/>
<path d="M380.7 905.0C378.7 905.2 372.4 906.1 368.8 906.1C365.2 906.1 360.9 905.2 359.3 905.0" fill="none" stroke="#979797" stroke-width="3.6" stroke-linejoin="round" stroke-linecap="round"/>
<path d="M381.9 921.6C379.9 922.4 373.9 924.8 370.0 926.4C366.0 927.9 360.1 930.3 358.1 931.1" fill="none" stroke="#979797" stroke-width="3.6" stroke-linejoin="round" stroke-linecap="round"/>
<path d="M383.1 938.3C381.1 939.6 374.5 944.2 371.2 946.6C367.8 949.0 364.2 951.5 362.8 952.5" fill="none" stroke="#979797" stroke-width="3.6" stroke-linejoin="round" stroke-linecap="round"/>
<path d="M384.2 952.5C383.3 954.1 379.7 959.5 378.3 962.0C376.9 964.6 376.3 967.0 375.9 968.0" fill="none" stroke="#979797" stroke-width="3.6" stroke-linejoin="round" stroke-linecap="round"/>
<path d="M380.7 881.2C381.1 879.4 382.5 873.2 383.1 870.5C383.7 867.7 384.1 865.5 384.2 864.5" fill="none" stroke="#979797" stroke-width="3.6" stroke-linejoin="round" stroke-linecap="round"/>
<path d="M386.6 931.1C386.4 932.1 385.5 935.5 385.4 937.1C385.3 938.7 385.9 940.0 386.0 940.6" fill="none" stroke="#000" stroke-width="1.6" stroke-linejoin="round" stroke-linecap="round"/>
<ellipse cx="367.0" cy="929.3" rx="1.7" ry="1.4" fill="#000"/>
<ellipse cx="390.8" cy="959.7" rx="1.2" ry="1.1" fill="#000"/></g>
<g transform="translate(798.23,0) scale(-1,1)">
<g filter="url(#wob2)"><path d="M397.1 869.3C396.5 866.7 395.6 864.2 394.4 863.3C393.1 862.5 391.3 864.6 389.6 864.3C387.9 863.9 385.9 861.5 384.2 861.2C382.6 860.8 381.3 861.3 379.5 862.1C377.7 863.0 375.2 864.7 373.5 866.3C371.9 867.9 370.4 869.8 369.4 871.7C368.4 873.5 368.7 875.6 367.6 877.6C366.5 879.6 364.1 881.2 362.8 883.5C361.6 885.9 360.9 889.1 359.9 891.9C358.9 894.6 357.7 897.2 356.9 900.2C356.1 903.2 355.5 906.5 355.1 909.7C354.7 912.9 355.1 916.1 354.5 919.2C353.9 922.4 352.2 925.6 351.5 928.7C350.9 931.9 350.4 935.3 350.7 938.3C351.0 941.2 352.1 944.0 353.3 946.6C354.6 949.2 356.5 951.3 358.1 953.7C359.7 956.1 361.1 958.7 362.8 960.9C364.6 963.0 366.8 965.1 368.8 966.8C370.8 968.5 372.8 970.0 374.7 971.0C376.7 972.0 378.7 972.8 380.7 972.7C382.7 972.6 384.6 971.5 386.6 970.4C388.6 969.3 390.9 967.8 392.6 966.2C394.2 964.6 395.5 963.5 396.4 960.9C397.2 958.2 397.4 955.9 397.7 950.1C397.9 944.4 397.9 934.3 397.9 926.4C398.0 918.4 398.1 910.5 398.0 902.6C398.0 894.6 398.0 884.3 397.8 878.8C397.6 873.2 397.7 871.8 397.1 869.3Z" fill="#e6e6e6" stroke="#f4f4f4" stroke-width="0.8" stroke-linejoin="round" stroke-linecap="round"/></g>
<g filter="url(#wob2p)"><path d="M380.7 876.4C380.7 879.8 380.5 889.9 380.7 896.6C380.9 903.4 381.5 909.9 381.9 916.8C382.3 923.8 382.7 931.5 383.1 938.3C383.5 945.0 384.1 954.1 384.2 957.3" fill="none" stroke="#979797" stroke-width="8.5" stroke-linejoin="round" stroke-linecap="round"/>
<path d="M380.7 890.7C379.3 889.7 374.5 886.7 372.4 884.7C370.2 882.8 368.4 879.8 367.6 878.8" fill="none" stroke="#979797" stroke-width="3.6" stroke-linejoin="round" stroke-linecap="round"/>
<path d="M380.7 905.0C378.7 905.2 372.4 906.1 368.8 906.1C365.2 906.1 360.9 905.2 359.3 905.0" fill="none" stroke="#979797" stroke-width="3.6" stroke-linejoin="round" stroke-linecap="round"/>
<path d="M381.9 921.6C379.9 922.4 373.9 924.8 370.0 926.4C366.0 927.9 360.1 930.3 358.1 931.1" fill="none" stroke="#979797" stroke-width="3.6" stroke-linejoin="round" stroke-linecap="round"/>
<path d="M383.1 938.3C381.1 939.6 374.5 944.2 371.2 946.6C367.8 949.0 364.2 951.5 362.8 952.5" fill="none" stroke="#979797" stroke-width="3.6" stroke-linejoin="round" stroke-linecap="round"/>
<path d="M384.2 952.5C383.3 954.1 379.7 959.5 378.3 962.0C376.9 964.6 376.3 967.0 375.9 968.0" fill="none" stroke="#979797" stroke-width="3.6" stroke-linejoin="round" stroke-linecap="round"/>
<path d="M380.7 881.2C381.1 879.4 382.5 873.2 383.1 870.5C383.7 867.7 384.1 865.5 384.2 864.5" fill="none" stroke="#979797" stroke-width="3.6" stroke-linejoin="round" stroke-linecap="round"/>
<path d="M386.6 931.1C386.4 932.1 385.5 935.5 385.4 937.1C385.3 938.7 385.9 940.0 386.0 940.6" fill="none" stroke="#000" stroke-width="1.6" stroke-linejoin="round" stroke-linecap="round"/>
<ellipse cx="367.0" cy="929.3" rx="1.7" ry="1.4" fill="#000"/>
<ellipse cx="390.8" cy="959.7" rx="1.2" ry="1.1" fill="#000"/></g>
</g>
<g filter="url(#soft)">
<path d="M370.9 949.6C371.5 949.2 373.6 949.0 374.7 949.6C375.9 950.1 377.0 951.6 377.7 953.1C378.4 954.6 378.6 956.8 378.9 958.5C379.2 960.2 379.5 962.3 379.3 963.2C379.0 964.1 377.8 964.6 377.4 963.8C376.9 963.0 377.2 960.0 376.5 958.5C375.9 957.0 374.4 956.0 373.5 954.9C372.7 953.8 371.8 952.8 371.4 951.9C371.0 951.0 370.4 949.9 370.9 949.6Z" fill="#d90a0a"/>
<path d="M413.1 923.4C414.1 922.8 418.5 922.6 419.7 923.0C420.9 923.5 420.7 925.3 420.2 926.1C419.6 926.9 417.4 927.7 416.4 927.8C415.3 927.8 414.3 927.1 413.7 926.4C413.2 925.6 412.2 923.9 413.1 923.4Z" fill="#d90a0a"/>
</g>
<g filter="url(#wob3)"><path d="M502.6 871.4C502.1 865.7 501.4 864.8 500.2 863.1C499.0 861.4 496.8 861.4 495.2 861.3C493.6 861.2 492.0 862.8 490.4 862.5C488.9 862.2 487.5 859.6 485.7 859.3C483.9 859.0 481.5 859.8 479.7 860.7C477.9 861.6 476.6 863.5 475.0 864.9C473.4 866.3 471.6 867.5 470.2 869.0C468.8 870.5 467.3 871.8 466.7 873.8C466.0 875.8 466.5 878.3 466.1 880.9C465.7 883.5 465.0 886.5 464.3 889.2C463.6 892.0 462.8 894.6 461.9 897.6C461.0 900.5 459.7 903.9 458.9 907.1C458.1 910.3 457.7 913.4 457.1 916.6C456.5 919.8 455.7 922.9 455.4 926.1C455.0 929.3 454.5 932.7 454.8 935.6C455.1 938.6 456.1 941.4 457.1 944.0C458.1 946.5 459.3 948.7 460.7 951.1C462.1 953.5 463.7 956.0 465.5 958.2C467.2 960.4 469.4 962.4 471.4 964.2C473.4 966.0 475.2 967.6 477.4 968.9C479.5 970.2 482.3 971.3 484.5 971.9C486.7 972.5 488.5 973.0 490.4 972.5C492.4 972.0 494.7 970.5 496.4 968.9C498.1 967.3 499.6 965.4 500.5 963.0C501.5 960.6 501.9 957.6 502.3 954.7C502.7 951.7 502.9 950.7 503.0 945.1C503.2 939.6 503.4 929.3 503.4 921.4C503.4 913.4 503.2 905.9 503.0 897.6C502.9 889.2 503.0 877.2 502.6 871.4Z" fill="#e6e6e6" stroke="#f4f4f4" stroke-width="0.8" stroke-linejoin="round" stroke-linecap="round"/></g>
<g filter="url(#wob3p)"><path d="M486.9 873.8C486.7 876.8 486.1 886.1 485.7 891.6C485.3 897.2 485.5 901.7 484.5 907.1C483.5 912.4 480.7 918.2 479.7 923.7C478.7 929.3 477.6 934.8 478.5 940.4C479.5 945.9 484.5 954.3 485.7 957.0" fill="none" stroke="#979797" stroke-width="8" stroke-linejoin="round" stroke-linecap="round"/>
<path d="M489.2 900.0C490.4 901.9 494.2 908.3 496.4 911.8C498.6 915.4 501.3 916.6 502.3 921.4C503.3 926.1 502.3 937.2 502.3 940.4" fill="none" stroke="#979797" stroke-width="8" stroke-linejoin="round" stroke-linecap="round"/>
<path d="M485.7 885.7C484.3 884.9 479.5 882.7 477.4 880.9C475.2 879.1 473.4 876.0 472.6 875.0" fill="none" stroke="#979797" stroke-width="3.6" stroke-linejoin="round" stroke-linecap="round"/>
<path d="M479.7 923.7C477.8 925.3 471.0 930.9 467.8 933.3C464.7 935.6 461.9 937.2 460.7 938.0" fill="none" stroke="#979797" stroke-width="3.6" stroke-linejoin="round" stroke-linecap="round"/>
<path d="M478.5 940.4C477.6 942.4 474.4 949.5 472.6 952.3C470.8 955.1 468.6 956.2 467.8 957.0" fill="none" stroke="#979797" stroke-width="3.6" stroke-linejoin="round" stroke-linecap="round"/>
<path d="M485.7 954.7C486.3 956.2 488.5 961.6 489.2 964.2C490.0 966.8 490.2 969.1 490.4 970.1" fill="none" stroke="#979797" stroke-width="3.6" stroke-linejoin="round" stroke-linecap="round"/>
<path d="M486.9 873.8C487.3 872.4 488.7 867.2 489.2 865.5C489.8 863.7 490.2 863.5 490.4 863.1" fill="none" stroke="#979797" stroke-width="3.6" stroke-linejoin="round" stroke-linecap="round"/>
<path d="M484.5 905.9C482.7 905.3 477.0 903.7 473.8 902.3C470.6 900.9 466.8 898.4 465.5 897.6" fill="none" stroke="#979797" stroke-width="3.6" stroke-linejoin="round" stroke-linecap="round"/>
<path d="M467.8 901.1C470.0 898.4 474.5 898.2 476.2 900.0C477.9 901.7 478.0 907.5 477.9 911.8C477.9 916.2 477.3 923.5 475.6 926.1C473.9 928.7 469.9 928.9 467.8 927.3C465.8 925.7 463.1 921.0 463.1 916.6C463.1 912.2 465.7 903.9 467.8 901.1Z" fill="#ececec" opacity="0.5"/>
<path d="M490.4 909.5C491.2 907.9 492.5 909.9 492.6 911.8C492.7 913.8 491.7 918.8 491.0 921.4C490.3 923.9 488.8 927.3 488.3 927.3C487.8 927.3 487.5 924.3 487.8 921.4C488.2 918.4 489.6 911.1 490.4 909.5Z" fill="#000"/>
<path d="M488.1 929.1C489.8 927.2 493.3 926.9 495.0 927.9C496.6 928.9 498.0 932.8 498.2 935.0C498.4 937.3 497.6 940.0 496.1 941.6C494.7 943.2 491.2 944.9 489.2 944.6C487.3 944.2 484.9 941.8 484.7 939.2C484.5 936.6 486.4 931.0 488.1 929.1Z" fill="#c4c4c4" stroke="#000" stroke-width="1.4" stroke-linejoin="round" stroke-linecap="round"/>
<ellipse cx="464.5" cy="915.4" rx="1.8" ry="1.0" fill="#000"/>
<ellipse cx="467.8" cy="954.7" rx="1.0" ry="1.0" fill="#000"/>
<ellipse cx="503.8" cy="921.4" rx="1.1" ry="2.4" fill="#000"/></g>
<g transform="translate(1008.23,0) scale(-1,1)">
<g filter="url(#wob3)"><path d="M502.6 871.4C502.1 865.7 501.4 864.8 500.2 863.1C499.0 861.4 496.8 861.4 495.2 861.3C493.6 861.2 492.0 862.8 490.4 862.5C488.9 862.2 487.5 859.6 485.7 859.3C483.9 859.0 481.5 859.8 479.7 860.7C477.9 861.6 476.6 863.5 475.0 864.9C473.4 866.3 471.6 867.5 470.2 869.0C468.8 870.5 467.3 871.8 466.7 873.8C466.0 875.8 466.5 878.3 466.1 880.9C465.7 883.5 465.0 886.5 464.3 889.2C463.6 892.0 462.8 894.6 461.9 897.6C461.0 900.5 459.7 903.9 458.9 907.1C458.1 910.3 457.7 913.4 457.1 916.6C456.5 919.8 455.7 922.9 455.4 926.1C455.0 929.3 454.5 932.7 454.8 935.6C455.1 938.6 456.1 941.4 457.1 944.0C458.1 946.5 459.3 948.7 460.7 951.1C462.1 953.5 463.7 956.0 465.5 958.2C467.2 960.4 469.4 962.4 471.4 964.2C473.4 966.0 475.2 967.6 477.4 968.9C479.5 970.2 482.3 971.3 484.5 971.9C486.7 972.5 488.5 973.0 490.4 972.5C492.4 972.0 494.7 970.5 496.4 968.9C498.1 967.3 499.6 965.4 500.5 963.0C501.5 960.6 501.9 957.6 502.3 954.7C502.7 951.7 502.9 950.7 503.0 945.1C503.2 939.6 503.4 929.3 503.4 921.4C503.4 913.4 503.2 905.9 503.0 897.6C502.9 889.2 503.0 877.2 502.6 871.4Z" fill="#e6e6e6" stroke="#f4f4f4" stroke-width="0.8" stroke-linejoin="round" stroke-linecap="round"/></g>
<g filter="url(#wob3p)"><path d="M486.9 873.8C486.7 876.8 486.1 886.1 485.7 891.6C485.3 897.2 485.5 901.7 484.5 907.1C483.5 912.4 480.7 918.2 479.7 923.7C478.7 929.3 477.6 934.8 478.5 940.4C479.5 945.9 484.5 954.3 485.7 957.0" fill="none" stroke="#979797" stroke-width="8" stroke-linejoin="round" stroke-linecap="round"/>
<path d="M489.2 900.0C490.4 901.9 494.2 908.3 496.4 911.8C498.6 915.4 501.3 916.6 502.3 921.4C503.3 926.1 502.3 937.2 502.3 940.4" fill="none" stroke="#979797" stroke-width="8" stroke-linejoin="round" stroke-linecap="round"/>
<path d="M485.7 885.7C484.3 884.9 479.5 882.7 477.4 880.9C475.2 879.1 473.4 876.0 472.6 875.0" fill="none" stroke="#979797" stroke-width="3.6" stroke-linejoin="round" stroke-linecap="round"/>
<path d="M479.7 923.7C477.8 925.3 471.0 930.9 467.8 933.3C464.7 935.6 461.9 937.2 460.7 938.0" fill="none" stroke="#979797" stroke-width="3.6" stroke-linejoin="round" stroke-linecap="round"/>
<path d="M478.5 940.4C477.6 942.4 474.4 949.5 472.6 952.3C470.8 955.1 468.6 956.2 467.8 957.0" fill="none" stroke="#979797" stroke-width="3.6" stroke-linejoin="round" stroke-linecap="round"/>
<path d="M485.7 954.7C486.3 956.2 488.5 961.6 489.2 964.2C490.0 966.8 490.2 969.1 490.4 970.1" fill="none" stroke="#979797" stroke-width="3.6" stroke-linejoin="round" stroke-linecap="round"/>
<path d="M486.9 873.8C487.3 872.4 488.7 867.2 489.2 865.5C489.8 863.7 490.2 863.5 490.4 863.1" fill="none" stroke="#979797" stroke-width="3.6" stroke-linejoin="round" stroke-linecap="round"/>
<path d="M484.5 905.9C482.7 905.3 477.0 903.7 473.8 902.3C470.6 900.9 466.8 898.4 465.5 897.6" fill="none" stroke="#979797" stroke-width="3.6" stroke-linejoin="round" stroke-linecap="round"/>
<path d="M467.8 901.1C470.0 898.4 474.5 898.2 476.2 900.0C477.9 901.7 478.0 907.5 477.9 911.8C477.9 916.2 477.3 923.5 475.6 926.1C473.9 928.7 469.9 928.9 467.8 927.3C465.8 925.7 463.1 921.0 463.1 916.6C463.1 912.2 465.7 903.9 467.8 901.1Z" fill="#ececec" opacity="0.5"/>
<path d="M490.4 909.5C491.2 907.9 492.5 909.9 492.6 911.8C492.7 913.8 491.7 918.8 491.0 921.4C490.3 923.9 488.8 927.3 488.3 927.3C487.8 927.3 487.5 924.3 487.8 921.4C488.2 918.4 489.6 911.1 490.4 909.5Z" fill="#000"/>
<path d="M488.1 929.1C489.8 927.2 493.3 926.9 495.0 927.9C496.6 928.9 498.0 932.8 498.2 935.0C498.4 937.3 497.6 940.0 496.1 941.6C494.7 943.2 491.2 944.9 489.2 944.6C487.3 944.2 484.9 941.8 484.7 939.2C484.5 936.6 486.4 931.0 488.1 929.1Z" fill="#c4c4c4" stroke="#000" stroke-width="1.4" stroke-linejoin="round" stroke-linecap="round"/>
<ellipse cx="464.5" cy="915.4" rx="1.8" ry="1.0" fill="#000"/>
<ellipse cx="467.8" cy="954.7" rx="1.0" ry="1.0" fill="#000"/>
<ellipse cx="503.8" cy="921.4" rx="1.1" ry="2.4" fill="#000"/></g>
</g>
<g filter="url(#soft)">
<path d="M504.1 963.6C503.2 963.6 501.6 966.3 501.4 967.7C501.1 969.2 503.0 971.1 502.6 972.5C502.2 973.9 500.0 974.7 499.0 976.1C498.0 977.4 495.8 979.6 496.6 980.6C497.5 981.6 501.6 982.3 504.1 982.3C506.6 982.3 510.8 981.6 511.6 980.6C512.5 979.6 510.2 977.4 509.2 976.1C508.2 974.7 506.1 973.9 505.7 972.5C505.3 971.1 507.1 969.2 506.9 967.7C506.6 966.3 505.0 963.6 504.1 963.6Z" fill="#c2c2c2"/>
</g>
<g filter="url(#soft)">
<path d="M476.2 948.1C476.7 947.0 478.4 947.1 479.1 948.1C479.8 949.1 479.2 952.5 480.3 954.1C481.4 955.7 484.8 955.9 485.7 957.6C486.5 959.4 486.2 963.2 485.4 964.8C484.7 966.3 482.3 967.0 481.2 966.8C480.1 966.6 479.2 965.2 478.8 963.6C478.3 962.0 479.0 958.5 478.5 957.0C478.1 955.6 476.3 956.1 475.9 954.7C475.5 953.2 475.6 949.2 476.2 948.1Z" fill="#d90a0a"/>
<path d="M510.1 920.8C511.2 919.8 515.3 919.3 516.6 920.2C517.9 921.1 518.1 924.1 517.8 926.1C517.5 928.1 516.0 931.3 514.8 932.1C513.6 932.9 511.4 931.9 510.7 930.9C509.9 929.9 510.2 927.8 510.1 926.1C510.0 924.4 509.0 921.8 510.1 920.8Z" fill="#d90a0a"/>
</g>
<g filter="url(#wob4)"><path d="M605.5 872.4C605.2 867.0 604.9 862.9 603.8 860.5C602.6 858.0 600.4 857.7 598.8 857.5C597.1 857.3 595.6 859.5 594.0 859.3C592.4 859.1 591.0 856.8 589.2 856.3C587.5 855.8 585.3 855.6 583.3 856.3C581.3 857.0 579.1 858.8 577.4 860.5C575.6 862.1 574.0 864.2 572.6 866.4C571.2 868.6 569.7 871.0 569.0 873.5C568.3 876.1 568.8 879.1 568.4 881.9C568.0 884.6 567.2 887.4 566.7 890.2C566.1 893.0 565.3 895.7 564.9 898.5C564.5 901.3 564.8 904.1 564.3 906.8C563.8 909.6 562.8 912.4 561.9 915.2C561.0 917.9 559.7 920.5 558.9 923.5C558.2 926.5 557.5 930.0 557.4 933.0C557.3 936.0 557.6 938.8 558.3 941.3C559.1 943.9 560.5 946.3 561.9 948.5C563.3 950.7 564.9 952.4 566.7 954.4C568.4 956.4 570.6 958.4 572.6 960.4C574.6 962.3 576.4 964.5 578.5 966.3C580.7 968.1 583.5 970.5 585.7 971.1C587.9 971.7 589.6 970.9 591.6 969.9C593.6 968.9 595.8 966.9 597.6 965.1C599.4 963.3 601.1 961.4 602.3 959.2C603.6 957.0 604.3 955.2 604.9 952.0C605.6 948.9 605.8 946.1 606.0 940.1C606.3 934.2 606.4 924.3 606.4 916.4C606.4 908.4 606.2 899.9 606.0 892.6C605.9 885.2 605.9 877.7 605.5 872.4Z" fill="#e6e6e6" stroke="#f4f4f4" stroke-width="0.8" stroke-linejoin="round" stroke-linecap="round"/></g>
<g filter="url(#wob4p)"><path d="M589.2 868.8C589.1 871.8 588.5 881.3 588.1 886.6C587.7 892.0 587.9 895.5 586.9 900.9C585.9 906.3 583.3 912.6 582.1 918.7C580.9 924.9 579.3 931.8 579.7 937.8C580.1 943.7 583.7 951.6 584.5 954.4" fill="none" stroke="#979797" stroke-width="8" stroke-linejoin="round" stroke-linecap="round"/>
<path d="M591.0 892.6C592.5 895.7 597.6 906.8 600.0 911.6C602.3 916.4 604.4 916.4 605.3 921.1C606.2 925.9 605.3 937.0 605.3 940.1" fill="none" stroke="#979797" stroke-width="8" stroke-linejoin="round" stroke-linecap="round"/>
<path d="M588.1 880.7C586.7 879.7 581.9 876.7 579.7 874.7C577.6 872.8 575.8 869.8 575.0 868.8" fill="none" stroke="#979797" stroke-width="3.6" stroke-linejoin="round" stroke-linecap="round"/>
<path d="M582.1 918.7C579.9 920.3 572.4 925.9 569.0 928.3C565.7 930.6 563.1 932.2 561.9 933.0" fill="none" stroke="#979797" stroke-width="3.6" stroke-linejoin="round" stroke-linecap="round"/>
<path d="M579.7 937.8C578.7 939.8 575.6 946.9 573.8 949.7C572.0 952.4 569.8 953.6 569.0 954.4" fill="none" stroke="#979797" stroke-width="3.6" stroke-linejoin="round" stroke-linecap="round"/>
<path d="M584.5 952.0C585.1 953.6 587.3 959.0 588.1 961.6C588.9 964.1 589.1 966.5 589.2 967.5" fill="none" stroke="#979797" stroke-width="3.6" stroke-linejoin="round" stroke-linecap="round"/>
<path d="M589.2 868.8C589.6 867.6 591.0 863.2 591.6 861.7C592.2 860.1 592.6 859.7 592.8 859.3" fill="none" stroke="#979797" stroke-width="3.6" stroke-linejoin="round" stroke-linecap="round"/>
<path d="M571.4 892.6C573.7 888.8 577.7 887.6 579.7 889.0C581.8 890.4 583.8 895.9 583.9 900.9C584.0 905.9 582.6 914.6 580.3 918.7C578.0 922.9 572.6 927.1 570.2 925.9C567.8 924.7 565.9 917.2 566.1 911.6C566.3 906.1 569.1 896.3 571.4 892.6Z" fill="#ececec" opacity="0.5"/>
<path d="M593.8 899.1C594.0 897.6 595.5 898.2 596.6 900.3C597.8 902.4 599.6 908.6 600.5 911.6C601.5 914.6 602.7 917.5 602.3 918.1C601.9 918.7 599.4 916.7 598.2 915.2C596.9 913.7 595.7 911.9 595.0 909.2C594.2 906.5 593.5 900.6 593.8 899.1Z" fill="#000"/>
<path d="M591.6 927.1C594.3 924.7 598.6 924.7 600.5 925.9C602.5 927.1 603.7 931.1 603.3 934.2C602.9 937.3 600.5 942.2 598.2 944.3C595.8 946.5 591.5 947.7 589.2 947.0C587.0 946.4 584.3 943.5 584.7 940.1C585.1 936.8 589.0 929.4 591.6 927.1Z" fill="#c4c4c4" stroke="#000" stroke-width="1.4" stroke-linejoin="round" stroke-linecap="round"/>
<ellipse cx="571.4" cy="947.3" rx="1.7" ry="2.1" fill="#000"/>
<ellipse cx="573.8" cy="902.7" rx="0.8" ry="1.4" fill="#000"/>
<ellipse cx="571.2" cy="913.0" rx="1.0" ry="1.0" fill="#000"/>
<ellipse cx="594.0" cy="955.6" rx="1.2" ry="1.1" fill="#000"/>
<path d="M606.4 947.3C606.6 945.3 607.2 945.3 607.3 947.3C607.5 949.3 607.6 957.2 607.3 959.2C607.1 961.2 606.1 961.2 605.9 959.2C605.7 957.2 606.1 949.3 606.4 947.3Z" fill="#000"/></g>
<g transform="translate(1214.18,0) scale(-1,1)">
<g filter="url(#wob4)"><path d="M605.5 872.4C605.2 867.0 604.9 862.9 603.8 860.5C602.6 858.0 600.4 857.7 598.8 857.5C597.1 857.3 595.6 859.5 594.0 859.3C592.4 859.1 591.0 856.8 589.2 856.3C587.5 855.8 585.3 855.6 583.3 856.3C581.3 857.0 579.1 858.8 577.4 860.5C575.6 862.1 574.0 864.2 572.6 866.4C571.2 868.6 569.7 871.0 569.0 873.5C568.3 876.1 568.8 879.1 568.4 881.9C568.0 884.6 567.2 887.4 566.7 890.2C566.1 893.0 565.3 895.7 564.9 898.5C564.5 901.3 564.8 904.1 564.3 906.8C563.8 909.6 562.8 912.4 561.9 915.2C561.0 917.9 559.7 920.5 558.9 923.5C558.2 926.5 557.5 930.0 557.4 933.0C557.3 936.0 557.6 938.8 558.3 941.3C559.1 943.9 560.5 946.3 561.9 948.5C563.3 950.7 564.9 952.4 566.7 954.4C568.4 956.4 570.6 958.4 572.6 960.4C574.6 962.3 576.4 964.5 578.5 966.3C580.7 968.1 583.5 970.5 585.7 971.1C587.9 971.7 589.6 970.9 591.6 969.9C593.6 968.9 595.8 966.9 597.6 965.1C599.4 963.3 601.1 961.4 602.3 959.2C603.6 957.0 604.3 955.2 604.9 952.0C605.6 948.9 605.8 946.1 606.0 940.1C606.3 934.2 606.4 924.3 606.4 916.4C606.4 908.4 606.2 899.9 606.0 892.6C605.9 885.2 605.9 877.7 605.5 872.4Z" fill="#e6e6e6" stroke="#f4f4f4" stroke-width="0.8" stroke-linejoin="round" stroke-linecap="round"/></g>
<g filter="url(#wob4p)"><path d="M589.2 868.8C589.1 871.8 588.5 881.3 588.1 886.6C587.7 892.0 587.9 895.5 586.9 900.9C585.9 906.3 583.3 912.6 582.1 918.7C580.9 924.9 579.3 931.8 579.7 937.8C580.1 943.7 583.7 951.6 584.5 954.4" fill="none" stroke="#979797" stroke-width="8" stroke-linejoin="round" stroke-linecap="round"/>
<path d="M591.0 892.6C592.5 895.7 597.6 906.8 600.0 911.6C602.3 916.4 604.4 916.4 605.3 921.1C606.2 925.9 605.3 937.0 605.3 940.1" fill="none" stroke="#979797" stroke-width="8" stroke-linejoin="round" stroke-linecap="round"/>
<path d="M588.1 880.7C586.7 879.7 581.9 876.7 579.7 874.7C577.6 872.8 575.8 869.8 575.0 868.8" fill="none" stroke="#979797" stroke-width="3.6" stroke-linejoin="round" stroke-linecap="round"/>
<path d="M582.1 918.7C579.9 920.3 572.4 925.9 569.0 928.3C565.7 930.6 563.1 932.2 561.9 933.0" fill="none" stroke="#979797" stroke-width="3.6" stroke-linejoin="round" stroke-linecap="round"/>
<path d="M579.7 937.8C578.7 939.8 575.6 946.9 573.8 949.7C572.0 952.4 569.8 953.6 569.0 954.4" fill="none" stroke="#979797" stroke-width="3.6" stroke-linejoin="round" stroke-linecap="round"/>
<path d="M584.5 952.0C585.1 953.6 587.3 959.0 588.1 961.6C588.9 964.1 589.1 966.5 589.2 967.5" fill="none" stroke="#979797" stroke-width="3.6" stroke-linejoin="round" stroke-linecap="round"/>
<path d="M589.2 868.8C589.6 867.6 591.0 863.2 591.6 861.7C592.2 860.1 592.6 859.7 592.8 859.3" fill="none" stroke="#979797" stroke-width="3.6" stroke-linejoin="round" stroke-linecap="round"/>
<path d="M571.4 892.6C573.7 888.8 577.7 887.6 579.7 889.0C581.8 890.4 583.8 895.9 583.9 900.9C584.0 905.9 582.6 914.6 580.3 918.7C578.0 922.9 572.6 927.1 570.2 925.9C567.8 924.7 565.9 917.2 566.1 911.6C566.3 906.1 569.1 896.3 571.4 892.6Z" fill="#ececec" opacity="0.5"/>
<path d="M593.8 899.1C594.0 897.6 595.5 898.2 596.6 900.3C597.8 902.4 599.6 908.6 600.5 911.6C601.5 914.6 602.7 917.5 602.3 918.1C601.9 918.7 599.4 916.7 598.2 915.2C596.9 913.7 595.7 911.9 595.0 909.2C594.2 906.5 593.5 900.6 593.8 899.1Z" fill="#000"/>
<path d="M591.6 927.1C594.3 924.7 598.6 924.7 600.5 925.9C602.5 927.1 603.7 931.1 603.3 934.2C602.9 937.3 600.5 942.2 598.2 944.3C595.8 946.5 591.5 947.7 589.2 947.0C587.0 946.4 584.3 943.5 584.7 940.1C585.1 936.8 589.0 929.4 591.6 927.1Z" fill="#c4c4c4" stroke="#000" stroke-width="1.4" stroke-linejoin="round" stroke-linecap="round"/>
<ellipse cx="571.4" cy="947.3" rx="1.7" ry="2.1" fill="#000"/>
<ellipse cx="573.8" cy="902.7" rx="0.8" ry="1.4" fill="#000"/>
<ellipse cx="571.2" cy="913.0" rx="1.0" ry="1.0" fill="#000"/>
<ellipse cx="594.0" cy="955.6" rx="1.2" ry="1.1" fill="#000"/>
<path d="M606.4 947.3C606.6 945.3 607.2 945.3 607.3 947.3C607.5 949.3 607.6 957.2 607.3 959.2C607.1 961.2 606.1 961.2 605.9 959.2C605.7 957.2 606.1 949.3 606.4 947.3Z" fill="#000"/></g>
</g>
<g filter="url(#wob4)">
<path d="M607.1 958.0C605.7 958.0 603.5 960.4 602.9 962.2C602.4 963.9 604.6 966.9 603.8 968.7C603.0 970.5 599.9 971.4 598.2 972.9C596.4 974.3 593.8 976.0 593.4 977.6C593.0 979.3 593.5 981.6 595.8 982.7C598.1 983.9 603.3 984.4 607.1 984.4C610.9 984.4 616.1 983.9 618.4 982.7C620.7 981.6 621.2 979.3 620.8 977.6C620.4 976.0 617.7 974.3 616.0 972.9C614.3 971.4 611.2 970.5 610.4 968.7C609.6 966.9 611.8 963.9 611.3 962.2C610.7 960.4 608.5 958.0 607.1 958.0Z" fill="#e6e6e6"/>
</g><g filter="url(#soft)">
<path d="M598.8 974.9C600.2 974.6 604.3 973.2 607.1 973.2C609.9 973.2 614.0 974.6 615.4 974.9" fill="none" stroke="#000" stroke-width="0.9" stroke-linejoin="round" stroke-linecap="round"/>
</g>
<g filter="url(#soft)">
<path d="M580.3 958.6C581.4 957.8 584.4 956.8 585.7 957.4C587.0 958.0 587.9 960.4 588.3 962.2C588.7 963.9 588.2 966.6 587.8 968.1C587.5 969.6 586.9 970.8 586.3 971.3C585.6 971.8 584.4 971.6 583.9 971.1C583.4 970.5 584.0 968.9 583.3 968.1C582.6 967.3 580.6 967.3 580.0 966.3C579.3 965.3 579.4 963.4 579.5 962.2C579.6 960.9 579.3 959.4 580.3 958.6Z" fill="#d90a0a"/>
<path d="M579.7 976.4C580.2 975.7 583.1 974.2 583.9 974.9C584.6 975.6 584.7 979.8 584.3 980.6C583.8 981.3 581.9 980.1 581.2 979.4C580.4 978.7 579.3 977.2 579.7 976.4Z" fill="#d90a0a"/>
<path d="M632.3 966.9C633.2 966.3 636.9 966.0 637.8 966.6C638.6 967.1 637.9 969.6 637.4 970.5C637.0 971.3 635.8 971.7 635.0 971.7C634.2 971.7 633.1 971.3 632.7 970.5C632.2 969.7 631.5 967.6 632.3 966.9Z" fill="#d90a0a"/>
<path d="M610.9 918.1C612.1 915.5 616.9 915.1 618.4 916.4C619.8 917.6 619.5 923.2 619.6 925.9C619.7 928.6 620.4 931.3 619.0 932.4C617.6 933.5 612.6 934.8 611.3 932.4C609.9 930.0 609.7 920.8 610.9 918.1Z" fill="#d90a0a"/>
<path d="M609.5 883.1C609.7 882.3 611.4 882.0 611.8 882.5C612.3 883.0 612.6 885.2 612.3 886.0C612.1 886.8 610.9 887.7 610.4 887.2C609.9 886.7 609.2 883.9 609.5 883.1Z" fill="#d90a0a"/>
<path d="M608.0 891.4C608.4 890.0 610.4 889.5 610.9 890.8C611.4 892.1 611.6 897.7 611.3 899.1C610.9 900.5 609.4 900.4 608.9 899.1C608.3 897.8 607.7 892.8 608.0 891.4Z" fill="#d90a0a"/>
</g>
<g filter="url(#wob5)"><path d="M708.6 864.8C708.5 860.0 708.3 857.0 707.2 854.9C706.1 852.7 703.9 852.5 702.0 851.8C700.1 851.0 698.1 850.2 695.8 850.5C693.6 850.8 690.7 852.5 688.4 853.6C686.1 854.8 684.0 855.9 682.2 857.3C680.5 858.8 679.0 860.2 677.9 862.3C676.7 864.4 675.9 867.0 675.4 869.7C674.9 872.4 675.2 875.5 674.8 878.4C674.4 881.3 673.5 884.2 672.9 887.1C672.3 890.0 671.5 892.9 671.1 895.7C670.6 898.6 670.3 901.7 670.4 904.4C670.5 907.1 672.4 909.8 671.7 911.9C671.0 913.9 667.7 914.7 666.1 916.8C664.6 918.9 663.3 921.6 662.4 924.2C661.5 926.9 660.7 929.8 660.5 932.9C660.3 936.0 660.4 939.7 661.1 942.8C661.9 945.9 663.4 949.0 664.9 951.5C666.3 954.0 668.0 955.8 669.8 957.7C671.7 959.5 674.0 961.4 676.0 962.6C678.1 963.8 679.9 965.0 682.2 964.9C684.5 964.8 687.4 963.1 689.6 962.0C691.9 960.9 693.8 959.5 695.8 958.3C697.9 957.1 700.3 955.8 702.0 954.6C703.8 953.4 705.0 951.8 706.4 950.9C707.7 949.9 709.4 952.8 710.0 948.8C710.6 944.7 710.1 932.5 710.0 926.7C709.9 921.0 709.6 918.5 709.3 914.3C709.1 910.2 708.7 907.1 708.5 901.9C708.2 896.8 708.0 889.6 708.0 883.4C708.0 877.2 708.7 869.5 708.6 864.8Z" fill="#e6e6e6" stroke="#f4f4f4" stroke-width="0.8" stroke-linejoin="round" stroke-linecap="round"/>
<path d="M710.0 951.5C709.3 946.7 707.3 953.1 706.0 954.2C704.7 955.3 703.9 956.6 702.3 957.9C700.6 959.2 698.1 960.7 696.1 962.0C694.0 963.3 691.5 964.6 689.9 965.7C688.2 966.9 686.4 967.7 686.2 969.1C686.0 970.5 687.4 972.4 688.7 974.0C689.9 975.7 692.2 977.8 693.6 979.0C695.1 980.2 695.7 980.6 697.3 981.2C699.0 981.8 701.4 982.4 703.5 982.7C705.6 983.0 708.9 988.2 710.0 983.0C711.0 977.8 710.6 956.3 710.0 951.5Z" fill="#ececec"/></g>
<g filter="url(#wob5p)"><path d="M693.4 862.3C693.2 865.4 692.1 874.7 692.1 880.9C692.1 887.1 693.6 893.5 693.4 899.5C693.2 905.5 692.9 911.0 690.9 916.8C688.8 922.6 683.7 929.2 681.0 934.2C678.3 939.1 675.8 944.5 674.8 946.5" fill="none" stroke="#979797" stroke-width="8" stroke-linejoin="round" stroke-linecap="round"/>
<path d="M693.4 899.5C694.4 901.9 698.1 909.8 699.6 914.3C701.0 918.9 701.6 924.7 702.0 926.7" fill="none" stroke="#979797" stroke-width="7" stroke-linejoin="round" stroke-linecap="round"/>
<path d="M692.1 877.2C690.7 876.3 685.5 874.1 683.4 872.2C681.4 870.4 680.4 867.0 679.7 866.0" fill="none" stroke="#979797" stroke-width="3.6" stroke-linejoin="round" stroke-linecap="round"/>
<path d="M681.0 934.2C679.3 934.2 673.7 934.6 671.1 934.2C668.4 933.7 665.9 932.1 664.9 931.7" fill="none" stroke="#979797" stroke-width="3.6" stroke-linejoin="round" stroke-linecap="round"/>
<path d="M687.2 924.2C687.8 926.7 690.9 934.6 690.9 939.1C690.9 943.7 687.8 949.4 687.2 951.5" fill="none" stroke="#979797" stroke-width="3.6" stroke-linejoin="round" stroke-linecap="round"/>
<path d="M693.4 862.3C694.0 861.3 696.3 857.6 697.1 856.1C697.9 854.7 698.1 854.0 698.3 853.6" fill="none" stroke="#979797" stroke-width="3.6" stroke-linejoin="round" stroke-linecap="round"/>
<path d="M699.6 893.3C700.7 894.7 703.6 900.9 704.5 904.4C705.4 907.9 705.5 912.5 705.1 914.3C704.7 916.2 703.1 917.2 702.0 915.6C701.0 913.9 699.7 907.7 698.9 904.4C698.2 901.1 697.6 897.6 697.7 895.7C697.8 893.9 698.4 891.8 699.6 893.3Z" fill="#d2d2d2"/>
<path d="M698.9 888.3C699.7 889.6 702.1 892.9 703.3 895.7C704.4 898.6 705.1 903.4 705.7 905.7C706.4 907.9 706.8 908.8 707.0 909.4" fill="none" stroke="#000" stroke-width="1.0" stroke-linejoin="round" stroke-linecap="round"/>
<path d="M705.1 919.3C705.7 917.7 709.2 915.5 710.0 917.1C710.8 918.6 710.5 927.0 710.0 928.6C709.4 930.1 707.5 928.0 706.7 926.5C705.9 924.9 704.6 920.9 705.1 919.3Z" fill="#000"/>
<path d="M689.6 934.2C690.9 934.8 694.4 937.9 697.1 937.9C699.8 937.9 703.9 935.6 705.7 934.2C707.6 932.7 707.8 930.0 708.2 929.2" fill="none" stroke="#000" stroke-width="0.8" stroke-linejoin="round" stroke-linecap="round"/>
<path d="M690.9 947.8C692.3 948.0 696.9 949.4 699.6 949.0C702.2 948.6 705.7 945.9 707.0 945.3" fill="none" stroke="#000" stroke-width="1.1" stroke-linejoin="round" stroke-linecap="round"/>
<path d="M705.1 948.0C705.8 947.1 709.2 946.1 710.0 946.8C710.8 947.5 710.6 951.2 710.0 952.1C709.3 953.0 706.8 952.8 706.0 952.1C705.2 951.4 704.5 948.9 705.1 948.0Z" fill="#000"/>
<path d="M693.4 864.8 L694.1 869.7" fill="none" stroke="#000" stroke-width="1.2" stroke-linejoin="round" stroke-linecap="round"/>
<path d="M682.8 883.4 L685.9 879.6" fill="none" stroke="#000" stroke-width="0.9" stroke-linejoin="round" stroke-linecap="round"/></g>
<g transform="translate(1420.91,0) scale(-1,1)">
<g filter="url(#wob5)"><path d="M708.6 864.8C708.5 860.0 708.3 857.0 707.2 854.9C706.1 852.7 703.9 852.5 702.0 851.8C700.1 851.0 698.1 850.2 695.8 850.5C693.6 850.8 690.7 852.5 688.4 853.6C686.1 854.8 684.0 855.9 682.2 857.3C680.5 858.8 679.0 860.2 677.9 862.3C676.7 864.4 675.9 867.0 675.4 869.7C674.9 872.4 675.2 875.5 674.8 878.4C674.4 881.3 673.5 884.2 672.9 887.1C672.3 890.0 671.5 892.9 671.1 895.7C670.6 898.6 670.3 901.7 670.4 904.4C670.5 907.1 672.4 909.8 671.7 911.9C671.0 913.9 667.7 914.7 666.1 916.8C664.6 918.9 663.3 921.6 662.4 924.2C661.5 926.9 660.7 929.8 660.5 932.9C660.3 936.0 660.4 939.7 661.1 942.8C661.9 945.9 663.4 949.0 664.9 951.5C666.3 954.0 668.0 955.8 669.8 957.7C671.7 959.5 674.0 961.4 676.0 962.6C678.1 963.8 679.9 965.0 682.2 964.9C684.5 964.8 687.4 963.1 689.6 962.0C691.9 960.9 693.8 959.5 695.8 958.3C697.9 957.1 700.3 955.8 702.0 954.6C703.8 953.4 705.0 951.8 706.4 950.9C707.7 949.9 709.4 952.8 710.0 948.8C710.6 944.7 710.1 932.5 710.0 926.7C709.9 921.0 709.6 918.5 709.3 914.3C709.1 910.2 708.7 907.1 708.5 901.9C708.2 896.8 708.0 889.6 708.0 883.4C708.0 877.2 708.7 869.5 708.6 864.8Z" fill="#e6e6e6" stroke="#f4f4f4" stroke-width="0.8" stroke-linejoin="round" stroke-linecap="round"/>
<path d="M710.0 951.5C709.3 946.7 707.3 953.1 706.0 954.2C704.7 955.3 703.9 956.6 702.3 957.9C700.6 959.2 698.1 960.7 696.1 962.0C694.0 963.3 691.5 964.6 689.9 965.7C688.2 966.9 686.4 967.7 686.2 969.1C686.0 970.5 687.4 972.4 688.7 974.0C689.9 975.7 692.2 977.8 693.6 979.0C695.1 980.2 695.7 980.6 697.3 981.2C699.0 981.8 701.4 982.4 703.5 982.7C705.6 983.0 708.9 988.2 710.0 983.0C711.0 977.8 710.6 956.3 710.0 951.5Z" fill="#ececec"/></g>
<g filter="url(#wob5p)"><path d="M693.4 862.3C693.2 865.4 692.1 874.7 692.1 880.9C692.1 887.1 693.6 893.5 693.4 899.5C693.2 905.5 692.9 911.0 690.9 916.8C688.8 922.6 683.7 929.2 681.0 934.2C678.3 939.1 675.8 944.5 674.8 946.5" fill="none" stroke="#979797" stroke-width="8" stroke-linejoin="round" stroke-linecap="round"/>
<path d="M693.4 899.5C694.4 901.9 698.1 909.8 699.6 914.3C701.0 918.9 701.6 924.7 702.0 926.7" fill="none" stroke="#979797" stroke-width="7" stroke-linejoin="round" stroke-linecap="round"/>
<path d="M692.1 877.2C690.7 876.3 685.5 874.1 683.4 872.2C681.4 870.4 680.4 867.0 679.7 866.0" fill="none" stroke="#979797" stroke-width="3.6" stroke-linejoin="round" stroke-linecap="round"/>
<path d="M681.0 934.2C679.3 934.2 673.7 934.6 671.1 934.2C668.4 933.7 665.9 932.1 664.9 931.7" fill="none" stroke="#979797" stroke-width="3.6" stroke-linejoin="round" stroke-linecap="round"/>
<path d="M687.2 924.2C687.8 926.7 690.9 934.6 690.9 939.1C690.9 943.7 687.8 949.4 687.2 951.5" fill="none" stroke="#979797" stroke-width="3.6" stroke-linejoin="round" stroke-linecap="round"/>
<path d="M693.4 862.3C694.0 861.3 696.3 857.6 697.1 856.1C697.9 854.7 698.1 854.0 698.3 853.6" fill="none" stroke="#979797" stroke-width="3.6" stroke-linejoin="round" stroke-linecap="round"/>
<path d="M699.6 893.3C700.7 894.7 703.6 900.9 704.5 904.4C705.4 907.9 705.5 912.5 705.1 914.3C704.7 916.2 703.1 917.2 702.0 915.6C701.0 913.9 699.7 907.7 698.9 904.4C698.2 901.1 697.6 897.6 697.7 895.7C697.8 893.9 698.4 891.8 699.6 893.3Z" fill="#d2d2d2"/>
<path d="M698.9 888.3C699.7 889.6 702.1 892.9 703.3 895.7C704.4 898.6 705.1 903.4 705.7 905.7C706.4 907.9 706.8 908.8 707.0 909.4" fill="none" stroke="#000" stroke-width="1.0" stroke-linejoin="round" stroke-linecap="round"/>
<path d="M705.1 919.3C705.7 917.7 709.2 915.5 710.0 917.1C710.8 918.6 710.5 927.0 710.0 928.6C709.4 930.1 707.5 928.0 706.7 926.5C705.9 924.9 704.6 920.9 705.1 919.3Z" fill="#000"/>
<path d="M689.6 934.2C690.9 934.8 694.4 937.9 697.1 937.9C699.8 937.9 703.9 935.6 705.7 934.2C707.6 932.7 707.8 930.0 708.2 929.2" fill="none" stroke="#000" stroke-width="0.8" stroke-linejoin="round" stroke-linecap="round"/>
<path d="M690.9 947.8C692.3 948.0 696.9 949.4 699.6 949.0C702.2 948.6 705.7 945.9 707.0 945.3" fill="none" stroke="#000" stroke-width="1.1" stroke-linejoin="round" stroke-linecap="round"/>
<path d="M705.1 948.0C705.8 947.1 709.2 946.1 710.0 946.8C710.8 947.5 710.6 951.2 710.0 952.1C709.3 953.0 706.8 952.8 706.0 952.1C705.2 951.4 704.5 948.9 705.1 948.0Z" fill="#000"/>
<path d="M693.4 864.8 L694.1 869.7" fill="none" stroke="#000" stroke-width="1.2" stroke-linejoin="round" stroke-linecap="round"/>
<path d="M682.8 883.4 L685.9 879.6" fill="none" stroke="#000" stroke-width="0.9" stroke-linejoin="round" stroke-linecap="round"/></g>
</g>
<g filter="url(#soft)">
<path d="M708.2 887.7C709.0 886.4 711.0 884.3 712.6 884.6C714.1 884.9 716.8 887.6 717.5 889.6C718.2 891.5 717.6 894.5 716.9 896.4C716.2 898.2 714.4 899.7 713.2 900.7C711.9 901.7 710.5 901.7 709.5 902.6C708.5 903.4 707.4 906.2 707.2 905.7C707.0 905.1 707.6 901.1 708.2 899.5C708.8 897.8 710.7 896.9 710.7 895.7C710.7 894.6 708.4 894.0 708.0 892.7C707.6 891.3 707.5 889.0 708.2 887.7Z" fill="#d90a0a"/>
<path d="M738.2 962.0C738.9 961.1 741.1 959.9 742.3 959.5C743.5 959.2 745.2 959.0 745.4 959.9C745.5 960.8 744.0 963.9 743.2 965.1C742.3 966.3 741.3 967.0 740.4 967.0C739.6 967.0 738.6 965.9 738.2 965.1C737.8 964.3 737.5 963.0 738.2 962.0Z" fill="#d90a0a"/>
</g>
<g filter="url(#wob6)"><path d="M813.0 863.5C812.7 858.4 812.5 855.0 811.7 852.4C811.0 849.8 809.9 849.0 808.3 848.1C806.7 847.1 804.1 846.8 802.1 846.8C800.0 846.8 797.9 847.2 795.9 848.1C793.8 848.9 791.6 850.3 789.7 851.8C787.7 853.2 785.5 854.8 784.1 856.7C782.8 858.7 781.8 861.2 781.6 863.5C781.4 865.9 782.3 868.3 782.9 871.0C783.5 873.7 785.0 877.0 785.4 879.6C785.7 882.3 785.4 884.8 784.7 887.1C784.1 889.3 782.8 891.0 781.6 893.3C780.5 895.5 779.1 898.2 777.9 900.7C776.8 903.2 775.8 905.7 774.8 908.1C773.9 910.6 773.6 913.5 772.3 915.6C771.1 917.6 768.5 918.7 767.4 920.5C766.3 922.4 765.9 924.4 765.5 926.7C765.1 929.0 764.7 931.5 764.9 934.2C765.1 936.8 765.8 940.3 766.8 942.8C767.7 945.3 769.0 947.3 770.5 949.0C771.9 950.8 773.6 952.2 775.4 953.4C777.3 954.5 779.5 955.2 781.6 955.8C783.8 956.5 786.3 957.2 788.4 957.1C790.6 957.0 792.8 956.1 794.6 955.2C796.5 954.3 798.2 952.9 799.6 951.5C801.0 950.1 802.0 948.0 803.1 946.8C804.1 945.6 804.6 944.6 805.8 944.3C807.0 944.1 808.8 945.0 810.1 945.3C811.5 945.6 813.3 951.5 814.0 946.3C814.6 941.1 814.1 924.8 814.0 914.3C813.9 903.8 813.6 891.8 813.5 883.4C813.3 874.9 813.3 868.7 813.0 863.5Z" fill="#e6e6e6" stroke="#f4f4f4" stroke-width="0.8" stroke-linejoin="round" stroke-linecap="round"/>
<path d="M814.0 949.0C813.1 943.6 810.0 949.6 808.5 950.6C807.0 951.7 806.5 954.0 804.8 955.5C803.1 956.9 800.7 958.0 798.6 959.2C796.5 960.4 794.6 961.4 792.2 962.6C789.7 963.8 785.8 965.0 783.7 966.4C781.7 967.7 780.3 969.3 780.0 970.7C779.7 972.1 780.4 973.9 781.9 975.0C783.3 976.2 786.5 976.5 788.7 977.5C790.9 978.5 792.8 980.5 794.9 981.2C797.0 982.0 798.8 981.7 801.1 982.0C803.4 982.2 806.4 982.7 808.5 982.8C810.7 983.0 813.1 988.6 814.0 983.0C814.9 977.3 814.9 954.4 814.0 949.0Z" fill="#ececec"/></g>
<g filter="url(#wob6p)"><path d="M802.1 871.0C801.5 874.1 800.0 883.2 798.4 889.6C796.7 896.0 794.2 903.2 792.2 909.4C790.1 915.6 788.0 921.4 786.0 926.7C783.9 932.1 780.8 939.1 779.8 941.6" fill="none" stroke="#979797" stroke-width="8" stroke-linejoin="round" stroke-linecap="round"/>
<path d="M798.4 909.4C799.4 912.3 803.9 922.6 804.6 926.7C805.2 930.8 802.5 932.9 802.1 934.2" fill="none" stroke="#979797" stroke-width="6" stroke-linejoin="round" stroke-linecap="round"/>
<path d="M795.9 920.5C798.2 918.7 804.1 918.3 807.0 919.3C809.9 920.3 812.8 923.8 813.2 926.7C813.6 929.6 812.0 934.8 809.5 936.6C807.0 938.5 801.0 938.9 798.4 937.9C795.7 936.8 793.8 933.3 793.4 930.4C793.0 927.5 793.6 922.4 795.9 920.5Z" fill="#cfcfcf" opacity="0.8"/>
<ellipse cx="794.9" cy="862.1" rx="1.1" ry="1.9" fill="#000"/>
<path d="M804.6 883.4C805.4 884.8 808.1 889.6 809.5 892.0C811.0 894.5 812.6 897.2 813.2 898.2" fill="none" stroke="#000" stroke-width="1.1" stroke-linejoin="round" stroke-linecap="round"/>
<path d="M813.2 898.2C812.5 899.3 809.7 902.4 808.9 904.4C808.1 906.5 807.4 909.1 808.3 910.6C809.1 912.2 813.0 913.2 814.0 913.7" fill="none" stroke="#000" stroke-width="1.1" stroke-linejoin="round" stroke-linecap="round"/>
<path d="M814.0 868.5C813.8 869.5 813.2 872.6 813.2 874.7C813.2 876.8 813.8 879.8 814.0 880.9" fill="none" stroke="#000" stroke-width="1.2" stroke-linejoin="round" stroke-linecap="round"/>
<path d="M783.2 932.3C784.7 933.4 789.3 937.5 792.2 939.1C795.0 940.8 798.5 940.8 800.2 942.2C801.9 943.7 802.0 946.9 802.3 947.8" fill="none" stroke="#000" stroke-width="1.3" stroke-linejoin="round" stroke-linecap="round"/>
<ellipse cx="807.7" cy="942.8" rx="3.7" ry="3.5" fill="#d0d0d0"/>
<path d="M811.5 929.2C811.4 930.4 810.7 934.4 810.9 936.6C811.0 938.9 812.2 941.8 812.5 942.8" fill="none" stroke="#000" stroke-width="1.1" stroke-linejoin="round" stroke-linecap="round"/>
<ellipse cx="775.4" cy="919.9" rx="1.6" ry="1.1" fill="#000"/>
<ellipse cx="787.8" cy="880.9" rx="0.9" ry="0.9" fill="#000"/>
<path d="M804.6 962.0C805.4 961.8 807.9 961.0 809.5 960.8C811.1 960.6 813.2 960.8 814.0 960.8" fill="none" stroke="#000" stroke-width="0.8" stroke-linejoin="round" stroke-linecap="round"/>
<path d="M792.2 970.1C794.0 970.9 799.7 974.1 803.3 975.0C806.9 976.0 812.2 975.6 814.0 975.7" fill="none" stroke="#000" stroke-width="0.7" stroke-linejoin="round" stroke-linecap="round"/></g>
<g transform="translate(1628.93,0) scale(-1,1)">
<g filter="url(#wob6)"><path d="M813.0 863.5C812.7 858.4 812.5 855.0 811.7 852.4C811.0 849.8 809.9 849.0 808.3 848.1C806.7 847.1 804.1 846.8 802.1 846.8C800.0 846.8 797.9 847.2 795.9 848.1C793.8 848.9 791.6 850.3 789.7 851.8C787.7 853.2 785.5 854.8 784.1 856.7C782.8 858.7 781.8 861.2 781.6 863.5C781.4 865.9 782.3 868.3 782.9 871.0C783.5 873.7 785.0 877.0 785.4 879.6C785.7 882.3 785.4 884.8 784.7 887.1C784.1 889.3 782.8 891.0 781.6 893.3C780.5 895.5 779.1 898.2 777.9 900.7C776.8 903.2 775.8 905.7 774.8 908.1C773.9 910.6 773.6 913.5 772.3 915.6C771.1 917.6 768.5 918.7 767.4 920.5C766.3 922.4 765.9 924.4 765.5 926.7C765.1 929.0 764.7 931.5 764.9 934.2C765.1 936.8 765.8 940.3 766.8 942.8C767.7 945.3 769.0 947.3 770.5 949.0C771.9 950.8 773.6 952.2 775.4 953.4C777.3 954.5 779.5 955.2 781.6 955.8C783.8 956.5 786.3 957.2 788.4 957.1C790.6 957.0 792.8 956.1 794.6 955.2C796.5 954.3 798.2 952.9 799.6 951.5C801.0 950.1 802.0 948.0 803.1 946.8C804.1 945.6 804.6 944.6 805.8 944.3C807.0 944.1 808.8 945.0 810.1 945.3C811.5 945.6 813.3 951.5 814.0 946.3C814.6 941.1 814.1 924.8 814.0 914.3C813.9 903.8 813.6 891.8 813.5 883.4C813.3 874.9 813.3 868.7 813.0 863.5Z" fill="#e6e6e6" stroke="#f4f4f4" stroke-width="0.8" stroke-linejoin="round" stroke-linecap="round"/>
<path d="M814.0 949.0C813.1 943.6 810.0 949.6 808.5 950.6C807.0 951.7 806.5 954.0 804.8 955.5C803.1 956.9 800.7 958.0 798.6 959.2C796.5 960.4 794.6 961.4 792.2 962.6C789.7 963.8 785.8 965.0 783.7 966.4C781.7 967.7 780.3 969.3 780.0 970.7C779.7 972.1 780.4 973.9 781.9 975.0C783.3 976.2 786.5 976.5 788.7 977.5C790.9 978.5 792.8 980.5 794.9 981.2C797.0 982.0 798.8 981.7 801.1 982.0C803.4 982.2 806.4 982.7 808.5 982.8C810.7 983.0 813.1 988.6 814.0 983.0C814.9 977.3 814.9 954.4 814.0 949.0Z" fill="#ececec"/></g>
<g filter="url(#wob6p)"><path d="M802.1 871.0C801.5 874.1 800.0 883.2 798.4 889.6C796.7 896.0 794.2 903.2 792.2 909.4C790.1 915.6 788.0 921.4 786.0 926.7C783.9 932.1 780.8 939.1 779.8 941.6" fill="none" stroke="#979797" stroke-width="8" stroke-linejoin="round" stroke-linecap="round"/>
<path d="M798.4 909.4C799.4 912.3 803.9 922.6 804.6 926.7C805.2 930.8 802.5 932.9 802.1 934.2" fill="none" stroke="#979797" stroke-width="6" stroke-linejoin="round" stroke-linecap="round"/>
<path d="M795.9 920.5C798.2 918.7 804.1 918.3 807.0 919.3C809.9 920.3 812.8 923.8 813.2 926.7C813.6 929.6 812.0 934.8 809.5 936.6C807.0 938.5 801.0 938.9 798.4 937.9C795.7 936.8 793.8 933.3 793.4 930.4C793.0 927.5 793.6 922.4 795.9 920.5Z" fill="#cfcfcf" opacity="0.8"/>
<ellipse cx="794.9" cy="862.1" rx="1.1" ry="1.9" fill="#000"/>
<path d="M804.6 883.4C805.4 884.8 808.1 889.6 809.5 892.0C811.0 894.5 812.6 897.2 813.2 898.2" fill="none" stroke="#000" stroke-width="1.1" stroke-linejoin="round" stroke-linecap="round"/>
<path d="M813.2 898.2C812.5 899.3 809.7 902.4 808.9 904.4C808.1 906.5 807.4 909.1 808.3 910.6C809.1 912.2 813.0 913.2 814.0 913.7" fill="none" stroke="#000" stroke-width="1.1" stroke-linejoin="round" stroke-linecap="round"/>
<path d="M814.0 868.5C813.8 869.5 813.2 872.6 813.2 874.7C813.2 876.8 813.8 879.8 814.0 880.9" fill="none" stroke="#000" stroke-width="1.2" stroke-linejoin="round" stroke-linecap="round"/>
<path d="M783.2 932.3C784.7 933.4 789.3 937.5 792.2 939.1C795.0 940.8 798.5 940.8 800.2 942.2C801.9 943.7 802.0 946.9 802.3 947.8" fill="none" stroke="#000" stroke-width="1.3" stroke-linejoin="round" stroke-linecap="round"/>
<ellipse cx="807.7" cy="942.8" rx="3.7" ry="3.5" fill="#d0d0d0"/>
<path d="M811.5 929.2C811.4 930.4 810.7 934.4 810.9 936.6C811.0 938.9 812.2 941.8 812.5 942.8" fill="none" stroke="#000" stroke-width="1.1" stroke-linejoin="round" stroke-linecap="round"/>
<ellipse cx="775.4" cy="919.9" rx="1.6" ry="1.1" fill="#000"/>
<ellipse cx="787.8" cy="880.9" rx="0.9" ry="0.9" fill="#000"/>
<path d="M804.6 962.0C805.4 961.8 807.9 961.0 809.5 960.8C811.1 960.6 813.2 960.8 814.0 960.8" fill="none" stroke="#000" stroke-width="0.8" stroke-linejoin="round" stroke-linecap="round"/>
<path d="M792.2 970.1C794.0 970.9 799.7 974.1 803.3 975.0C806.9 976.0 812.2 975.6 814.0 975.7" fill="none" stroke="#000" stroke-width="0.7" stroke-linejoin="round" stroke-linecap="round"/></g>
</g>
<g filter="url(#soft)">
<path d="M846.1 957.1C846.3 956.9 847.5 957.8 847.7 958.3C847.9 958.8 847.5 960.0 847.3 960.2C847.0 960.3 846.4 959.7 846.2 959.2C846.0 958.7 845.8 957.2 846.1 957.1Z" fill="#d90a0a"/>
</g>
<text x="20.8" y="798" font-size="23.6" font-weight="bold" textLength="99.4" lengthAdjust="spacingAndGlyphs" fill="#fff">WD &gt; SD</text>
<text x="126" y="797.6" font-size="17.5" font-weight="bold" textLength="69.4" lengthAdjust="spacingAndGlyphs" fill="#fff">(uncorr.)</text>
<text x="259.4" y="817.3" font-size="19" textLength="49.5" lengthAdjust="spacingAndGlyphs" fill="#fff" stroke="#fff" stroke-width="0.75">dlPFC</text>
<text x="493.9" y="823.7" font-size="20.5" textLength="18.5" lengthAdjust="spacingAndGlyphs" fill="#fff" stroke="#fff" stroke-width="0.75">Fx</text>
<text x="595.7" y="823.7" font-size="20.5" textLength="35.7" lengthAdjust="spacingAndGlyphs" fill="#fff" stroke="#fff" stroke-width="0.75">HPC</text>
<text x="726.4" y="817.6" font-size="20" textLength="47.2" lengthAdjust="spacingAndGlyphs" fill="#fff" stroke="#fff" stroke-width="0.75">dACC</text>
<line x1="286.3" y1="828.4" x2="296.1" y2="859.2" stroke="#fff" stroke-width="1.4"/>
<polygon points="298.8,867.8 292.1,860.5 300.1,858.0" fill="#fff"/>
<line x1="505.7" y1="835.5" x2="510.2" y2="911.0" stroke="#fff" stroke-width="1.4"/>
<polygon points="510.7,920.0 506.0,911.3 514.4,910.8" fill="#fff"/>
<line x1="612.8" y1="836.6" x2="613.4" y2="912.0" stroke="#fff" stroke-width="1.4"/>
<polygon points="613.5,921.0 609.2,912.0 617.6,912.0" fill="#fff"/>
<line x1="741.1" y1="830.5" x2="719.1" y2="880.3" stroke="#fff" stroke-width="1.4"/>
<polygon points="715.5,888.5 715.3,878.6 723.0,882.0" fill="#fff"/>
<text x="224.3" y="1012" font-size="17.5" textLength="26.2" lengthAdjust="spacingAndGlyphs" fill="#fff" stroke="#fff" stroke-width="0.75">DV:</text>
<text x="283.2" y="1012" font-size="17.5" textLength="27.3" lengthAdjust="spacingAndGlyphs" fill="#fff" stroke="#fff" stroke-width="0.75">+17</text>
<text x="378.6" y="1015.4" font-size="17.5" textLength="27.9" lengthAdjust="spacingAndGlyphs" fill="#fff" stroke="#fff" stroke-width="0.75">+15</text>
<text x="491.8" y="1015.4" font-size="17.5" textLength="28.2" lengthAdjust="spacingAndGlyphs" fill="#fff" stroke="#fff" stroke-width="0.75">+13</text>
<text x="596.6" y="1016.4" font-size="17.5" textLength="27.6" lengthAdjust="spacingAndGlyphs" fill="#fff" stroke="#fff" stroke-width="0.75">+11</text>
<text x="699" y="1015" font-size="17.5" textLength="18.9" lengthAdjust="spacingAndGlyphs" fill="#fff" stroke="#fff" stroke-width="0.75">+8</text>
<text x="796" y="1019.8" font-size="17.5" textLength="19.3" lengthAdjust="spacingAndGlyphs" fill="#fff" stroke="#fff" stroke-width="0.75">+5</text>
<defs><linearGradient id="hot" x1="0" y1="0" x2="0" y2="1"><stop offset="0" stop-color="#ffffc8"/><stop offset="0.2" stop-color="#ffff10"/><stop offset="0.4" stop-color="#ff9000"/><stop offset="0.6" stop-color="#ff1000"/><stop offset="0.8" stop-color="#8a0000"/><stop offset="1" stop-color="#1c0000"/></linearGradient></defs>
<rect x="926.3" y="862.2" width="14" height="145" fill="url(#hot)"/>
<path d="M940.6 862.2 V1007 H936.5" fill="none" stroke="#fff" stroke-width="1.1"/>
<text x="911" y="853.2" font-size="17" textLength="40.7" lengthAdjust="spacingAndGlyphs" fill="#fff" stroke="#fff" stroke-width="0.75">t-stat</text>
<text x="965.6" y="883.5" font-size="17.5" textLength="18.8" lengthAdjust="spacingAndGlyphs" fill="#fff" stroke="#fff" stroke-width="0.5">14</text>
<text x="956.3" y="1004.7" font-size="17.5" textLength="8.5" lengthAdjust="spacingAndGlyphs" fill="#fff" stroke="#fff" stroke-width="0.5">0</text>
<text x="14" y="1084.1" font-size="22" font-weight="bold" textLength="63.4" lengthAdjust="spacingAndGlyphs" fill="#fff">dlPFC:</text>
<text x="85.3" y="1084.1" font-size="22" textLength="303.7" lengthAdjust="spacingAndGlyphs" fill="#fff" stroke="#fff" stroke-width="0.3">dorsolateral prefrontal cortex;</text>
<text x="14" y="1113.5" font-size="22" font-weight="bold" textLength="60.4" lengthAdjust="spacingAndGlyphs" fill="#fff">dACC:</text>
<text x="82.3" y="1113.5" font-size="22" textLength="316.2" lengthAdjust="spacingAndGlyphs" fill="#fff" stroke="#fff" stroke-width="0.3">dorsal anterior cingulate cortex</text>
<text x="14" y="1143.2" font-size="22" font-weight="bold" textLength="27.7" lengthAdjust="spacingAndGlyphs" fill="#fff">Fx:</text>
<text x="49.6" y="1143.2" font-size="22" textLength="57.5" lengthAdjust="spacingAndGlyphs" fill="#fff" stroke="#fff" stroke-width="0.3">fornix</text>
<text x="14" y="1172.9" font-size="22" font-weight="bold" textLength="47.9" lengthAdjust="spacingAndGlyphs" fill="#fff">HPC:</text>
<text x="71" y="1172.9" font-size="22" textLength="134.4" lengthAdjust="spacingAndGlyphs" fill="#fff" stroke="#fff" stroke-width="0.3">hippocampus</text>
</g>
<g id="table" font-family="Liberation Sans, sans-serif">
<text x="273.6" y="1214.3" font-size="16.2" font-weight="bold" textLength="131.4" lengthAdjust="spacingAndGlyphs" fill="#000">Anatomical area</text>
<text x="717.9" y="1214.3" font-size="16.2" font-weight="bold" textLength="71.7" lengthAdjust="spacingAndGlyphs" fill="#000">Statistics</text>
<line x1="101.8" y1="1228.7" x2="578.2" y2="1228.7" stroke="#222" stroke-width="1.4"/>
<line x1="618" y1="1228.7" x2="891.4" y2="1228.7" stroke="#222" stroke-width="1.4"/>
<line x1="101.8" y1="1271.9" x2="891.4" y2="1271.9" stroke="#222" stroke-width="1.6"/>
<text x="249" y="1256" font-size="16.5" textLength="26.3" lengthAdjust="spacingAndGlyphs" fill="#000" stroke="#000" stroke-width="0.3">ROI</text>
<text x="454.3" y="1256" font-size="16.5" textLength="94.3" lengthAdjust="spacingAndGlyphs" fill="#000" stroke="#000" stroke-width="0.3">Hemisphere</text>
<text x="641.6" y="1256" font-size="16.5" font-style="italic" textLength="51.9" lengthAdjust="spacingAndGlyphs" fill="#000" stroke="#000" stroke-width="0.3">t-value</text>
<text x="743.1" y="1256.4" font-size="16.5" font-style="italic" textLength="33.7" lengthAdjust="spacingAndGlyphs" fill="#000" stroke="#000" stroke-width="0.3">P<tspan font-size="10.5" dy="3">FWE</tspan></text>
<text x="823" y="1256.4" font-size="16.5" font-style="italic" textLength="45.8" lengthAdjust="spacingAndGlyphs" fill="#000" stroke="#000" stroke-width="0.3">P<tspan font-size="10.5" dy="3">Uncorr</tspan></text>
<text x="106.2" y="1295.5" font-size="16.5" textLength="233.8" lengthAdjust="spacingAndGlyphs" fill="#000" stroke="#000" stroke-width="0.3">Dorsolateral prefrontal cortex</text>
<text x="501.6" y="1295.5" font-size="16.5" text-anchor="middle" fill="#000" stroke="#000" stroke-width="0.3">R</text>
<text x="667" y="1295.5" font-size="16.5" text-anchor="middle" textLength="32.7" lengthAdjust="spacingAndGlyphs" fill="#000" stroke="#000" stroke-width="0.3">3.92</text>
<text x="759" y="1295.5" font-size="16.5" text-anchor="middle" textLength="16.9" lengthAdjust="spacingAndGlyphs" fill="#000" stroke="#000" stroke-width="0.3">ns</text>
<text x="845.2" y="1295.5" font-size="16.5" text-anchor="middle" textLength="53.9" lengthAdjust="spacingAndGlyphs" fill="#000" stroke="#000" stroke-width="0.3">0.0004</text>
<line x1="101.8" y1="1306.2" x2="891.4" y2="1306.2" stroke="#c9c9c9" stroke-width="1.3"/>
<text x="106.2" y="1324.8" font-size="16.5" textLength="106.8" lengthAdjust="spacingAndGlyphs" fill="#000" stroke="#000" stroke-width="0.3">Hippocampus</text>
<text x="501.6" y="1324.8" font-size="16.5" text-anchor="middle" fill="#000" stroke="#000" stroke-width="0.3">R</text>
<text x="667" y="1324.8" font-size="16.5" text-anchor="middle" textLength="32.7" lengthAdjust="spacingAndGlyphs" fill="#000" stroke="#000" stroke-width="0.3">4.13</text>
<text x="759" y="1324.8" font-size="16.5" text-anchor="middle" textLength="16.9" lengthAdjust="spacingAndGlyphs" fill="#000" stroke="#000" stroke-width="0.3">ns</text>
<text x="845.2" y="1324.8" font-size="16.5" text-anchor="middle" textLength="53.9" lengthAdjust="spacingAndGlyphs" fill="#000" stroke="#000" stroke-width="0.3">0.0003</text>
<line x1="101.8" y1="1332.5" x2="891.4" y2="1332.5" stroke="#c9c9c9" stroke-width="1.3"/>
<text x="106.2" y="1355.4" font-size="16.5" textLength="267.8" lengthAdjust="spacingAndGlyphs" fill="#000" stroke="#000" stroke-width="0.3">Somatosensory association cortex</text>
<text x="501.6" y="1355.4" font-size="16.5" text-anchor="middle" fill="#000" stroke="#000" stroke-width="0.3">R</text>
<text x="667" y="1355.4" font-size="16.5" text-anchor="middle" textLength="32.7" lengthAdjust="spacingAndGlyphs" fill="#000" stroke="#000" stroke-width="0.3">3.58</text>
<text x="759" y="1355.4" font-size="16.5" text-anchor="middle" textLength="16.9" lengthAdjust="spacingAndGlyphs" fill="#000" stroke="#000" stroke-width="0.3">ns</text>
<text x="845.2" y="1355.4" font-size="16.5" text-anchor="middle" textLength="53.9" lengthAdjust="spacingAndGlyphs" fill="#000" stroke="#000" stroke-width="0.3">0.0009</text>
<line x1="101.8" y1="1364.5" x2="891.4" y2="1364.5" stroke="#c9c9c9" stroke-width="1.3"/>
<text x="106.2" y="1386.7" font-size="16.5" textLength="255.0" lengthAdjust="spacingAndGlyphs" fill="#000" stroke="#000" stroke-width="0.3">Ventral anterior cingulate cortex</text>
<text x="501.6" y="1386.7" font-size="16.5" text-anchor="middle" fill="#000" stroke="#000" stroke-width="0.3">R</text>
<text x="667" y="1386.7" font-size="16.5" text-anchor="middle" textLength="32.7" lengthAdjust="spacingAndGlyphs" fill="#000" stroke="#000" stroke-width="0.3">5.40</text>
<text x="759" y="1386.7" font-size="16.5" text-anchor="middle" textLength="32.7" lengthAdjust="spacingAndGlyphs" fill="#000" stroke="#000" stroke-width="0.3">0.04</text>
<text x="845.2" y="1386.7" font-size="16.5" text-anchor="middle" textLength="53.9" lengthAdjust="spacingAndGlyphs" fill="#000" stroke="#000" stroke-width="0.3">0.0000</text>
<line x1="101.8" y1="1396.5" x2="891.4" y2="1396.5" stroke="#c9c9c9" stroke-width="1.3"/>
<text x="106.2" y="1419.4" font-size="16.5" textLength="248.3" lengthAdjust="spacingAndGlyphs" fill="#000" stroke="#000" stroke-width="0.3">Dorsal anterior cingulate cortex</text>
<text x="501.6" y="1419.4" font-size="16.5" text-anchor="middle" fill="#000" stroke="#000" stroke-width="0.3">L</text>
<text x="667" y="1419.4" font-size="16.5" text-anchor="middle" textLength="32.7" lengthAdjust="spacingAndGlyphs" fill="#000" stroke="#000" stroke-width="0.3">3.90</text>
<text x="759" y="1419.4" font-size="16.5" text-anchor="middle" textLength="16.9" lengthAdjust="spacingAndGlyphs" fill="#000" stroke="#000" stroke-width="0.3">ns</text>
<text x="845.2" y="1419.4" font-size="16.5" text-anchor="middle" textLength="53.9" lengthAdjust="spacingAndGlyphs" fill="#000" stroke="#000" stroke-width="0.3">0.0004</text>
<line x1="101.8" y1="1428.8" x2="891.4" y2="1428.8" stroke="#c9c9c9" stroke-width="1.3"/>
<text x="106.2" y="1451.4" font-size="16.5" textLength="248.3" lengthAdjust="spacingAndGlyphs" fill="#000" stroke="#000" stroke-width="0.3">Dorsal anterior cingulate cortex</text>
<text x="501.6" y="1451.4" font-size="16.5" text-anchor="middle" fill="#000" stroke="#000" stroke-width="0.3">R</text>
<text x="667" y="1451.4" font-size="16.5" text-anchor="middle" textLength="32.7" lengthAdjust="spacingAndGlyphs" fill="#000" stroke="#000" stroke-width="0.3">5.19</text>
<text x="759" y="1451.4" font-size="16.5" text-anchor="middle" textLength="32.7" lengthAdjust="spacingAndGlyphs" fill="#000" stroke="#000" stroke-width="0.3">0.04</text>
<text x="845.2" y="1451.4" font-size="16.5" text-anchor="middle" textLength="53.9" lengthAdjust="spacingAndGlyphs" fill="#000" stroke="#000" stroke-width="0.3">0.0000</text>
<line x1="101.8" y1="1460.8" x2="891.4" y2="1460.8" stroke="#c9c9c9" stroke-width="1.3"/>
</g>
</svg>
</body></html>
